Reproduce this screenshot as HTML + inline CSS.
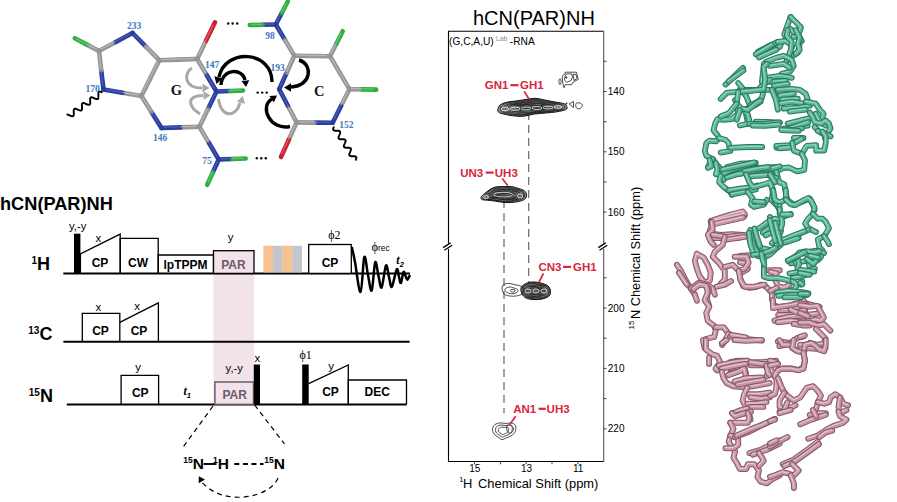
<!DOCTYPE html>
<html><head><meta charset="utf-8"><style>
html,body{margin:0;padding:0;background:#fff;}
svg{display:block;}

</style></head><body>
<svg font-family="Liberation Sans" width="897" height="502" viewBox="0 0 897 502">
<g stroke-linecap="round" stroke-width="4.6">
<line x1="99" y1="51" x2="115.8" y2="42.0" stroke="#959595"/>
<line x1="132.5" y1="33" x2="115.8" y2="42.0" stroke="#2a3d9e"/>
<line x1="132.5" y1="33" x2="145.9" y2="46.6" stroke="#2a3d9e"/>
<line x1="159.3" y1="60.2" x2="145.9" y2="46.6" stroke="#959595"/>
<line x1="159.3" y1="60.2" x2="150.4" y2="78.1" stroke="#959595"/>
<line x1="141.4" y1="96" x2="150.4" y2="78.1" stroke="#959595"/>
<line x1="141.4" y1="96" x2="122.5" y2="92.8" stroke="#959595"/>
<line x1="103.5" y1="89.5" x2="122.5" y2="92.8" stroke="#2a3d9e"/>
<line x1="103.5" y1="89.5" x2="101.2" y2="70.2" stroke="#2a3d9e"/>
<line x1="99" y1="51" x2="101.2" y2="70.2" stroke="#959595"/>
<line x1="99" y1="51" x2="86.9" y2="44.6" stroke="#959595"/>
<line x1="74.8" y1="38.3" x2="86.9" y2="44.6" stroke="#2fae40"/>
<line x1="159.3" y1="60.2" x2="178.2" y2="59.6" stroke="#959595"/>
<line x1="197.2" y1="59" x2="178.2" y2="59.6" stroke="#959595"/>
<line x1="197.2" y1="59" x2="206.1" y2="40.6" stroke="#959595"/>
<line x1="215" y1="22.3" x2="206.1" y2="40.6" stroke="#c92030"/>
<line x1="197.2" y1="59" x2="206.8" y2="75.2" stroke="#959595"/>
<line x1="216.5" y1="91.5" x2="206.8" y2="75.2" stroke="#2a3d9e"/>
<line x1="216.5" y1="91.5" x2="207.9" y2="109.2" stroke="#2a3d9e"/>
<line x1="199.4" y1="126.8" x2="207.9" y2="109.2" stroke="#959595"/>
<line x1="199.4" y1="126.8" x2="180.4" y2="127.4" stroke="#959595"/>
<line x1="161.5" y1="128" x2="180.4" y2="127.4" stroke="#2a3d9e"/>
<line x1="161.5" y1="128" x2="151.4" y2="112.0" stroke="#2a3d9e"/>
<line x1="141.4" y1="96" x2="151.4" y2="112.0" stroke="#959595"/>
<line x1="199.4" y1="126.8" x2="209.1" y2="143.2" stroke="#959595"/>
<line x1="218.7" y1="159.5" x2="209.1" y2="143.2" stroke="#2a3d9e"/>
<line x1="218.7" y1="159.5" x2="232.2" y2="159.0" stroke="#2a3d9e"/>
<line x1="245.7" y1="158.5" x2="232.2" y2="159.0" stroke="#2fae40"/>
<line x1="218.7" y1="159.5" x2="212.9" y2="172.2" stroke="#2a3d9e"/>
<line x1="207.2" y1="184.8" x2="212.9" y2="172.2" stroke="#2fae40"/>
<line x1="216.5" y1="91.5" x2="229.8" y2="91.0" stroke="#2a3d9e"/>
<line x1="243" y1="90.5" x2="229.8" y2="91.0" stroke="#2fae40"/>
<line x1="275.8" y1="24.5" x2="281.8" y2="13.0" stroke="#2a3d9e"/>
<line x1="287.7" y1="1.5" x2="281.8" y2="13.0" stroke="#2fae40"/>
<line x1="275.8" y1="24.5" x2="262.8" y2="24.8" stroke="#2a3d9e"/>
<line x1="249.8" y1="25" x2="262.8" y2="24.8" stroke="#2fae40"/>
<line x1="275.8" y1="24.5" x2="285.1" y2="40.1" stroke="#2a3d9e"/>
<line x1="294.3" y1="55.7" x2="285.1" y2="40.1" stroke="#959595"/>
<line x1="294.3" y1="55.7" x2="312.1" y2="56.0" stroke="#959595"/>
<line x1="330" y1="56.2" x2="312.1" y2="56.0" stroke="#959595"/>
<line x1="330" y1="56.2" x2="336.4" y2="43.7" stroke="#959595"/>
<line x1="342.7" y1="31.2" x2="336.4" y2="43.7" stroke="#2fae40"/>
<line x1="330" y1="56.2" x2="339.7" y2="72.7" stroke="#959595"/>
<line x1="349.4" y1="89.2" x2="339.7" y2="72.7" stroke="#959595"/>
<line x1="349.4" y1="89.2" x2="362.8" y2="89.4" stroke="#959595"/>
<line x1="376.2" y1="89.6" x2="362.8" y2="89.4" stroke="#2fae40"/>
<line x1="349.4" y1="89.2" x2="341.0" y2="106.0" stroke="#959595"/>
<line x1="332.7" y1="122.8" x2="341.0" y2="106.0" stroke="#2a3d9e"/>
<line x1="332.7" y1="122.8" x2="314.6" y2="122.6" stroke="#2a3d9e"/>
<line x1="296.6" y1="122.4" x2="314.6" y2="122.6" stroke="#959595"/>
<line x1="296.6" y1="122.4" x2="288.8" y2="139.7" stroke="#959595"/>
<line x1="281" y1="157" x2="288.8" y2="139.7" stroke="#c92030"/>
<line x1="296.6" y1="122.4" x2="287.9" y2="105.8" stroke="#959595"/>
<line x1="279.2" y1="89.2" x2="287.9" y2="105.8" stroke="#2a3d9e"/>
<line x1="279.2" y1="89.2" x2="286.8" y2="72.5" stroke="#2a3d9e"/>
<line x1="294.3" y1="55.7" x2="286.8" y2="72.5" stroke="#959595"/>
</g>
<g stroke-linecap="butt" stroke-width="1.3" stroke-opacity="0.7" transform="translate(-0.3,-0.5)">
<line x1="101.5" y1="49.6" x2="115.8" y2="42.0" stroke="#c4c4c4"/>
<line x1="130.0" y1="34.4" x2="115.8" y2="42.0" stroke="#5668c0"/>
<line x1="134.5" y1="35.0" x2="145.9" y2="46.6" stroke="#5668c0"/>
<line x1="157.3" y1="58.2" x2="145.9" y2="46.6" stroke="#c4c4c4"/>
<line x1="158.0" y1="62.9" x2="150.4" y2="78.1" stroke="#c4c4c4"/>
<line x1="142.7" y1="93.3" x2="150.4" y2="78.1" stroke="#c4c4c4"/>
<line x1="138.6" y1="95.5" x2="122.5" y2="92.8" stroke="#c4c4c4"/>
<line x1="106.3" y1="90.0" x2="122.5" y2="92.8" stroke="#5668c0"/>
<line x1="103.2" y1="86.6" x2="101.2" y2="70.2" stroke="#5668c0"/>
<line x1="99.3" y1="53.9" x2="101.2" y2="70.2" stroke="#c4c4c4"/>
<line x1="97.2" y1="50.0" x2="86.9" y2="44.6" stroke="#c4c4c4"/>
<line x1="76.6" y1="39.3" x2="86.9" y2="44.6" stroke="#74d184"/>
<line x1="162.1" y1="60.1" x2="178.2" y2="59.6" stroke="#c4c4c4"/>
<line x1="194.4" y1="59.1" x2="178.2" y2="59.6" stroke="#c4c4c4"/>
<line x1="198.5" y1="56.2" x2="206.1" y2="40.6" stroke="#c4c4c4"/>
<line x1="213.7" y1="25.1" x2="206.1" y2="40.6" stroke="#e86a78"/>
<line x1="198.6" y1="61.4" x2="206.8" y2="75.2" stroke="#c4c4c4"/>
<line x1="215.1" y1="89.1" x2="206.8" y2="75.2" stroke="#5668c0"/>
<line x1="215.2" y1="94.1" x2="207.9" y2="109.2" stroke="#5668c0"/>
<line x1="200.7" y1="124.2" x2="207.9" y2="109.2" stroke="#c4c4c4"/>
<line x1="196.6" y1="126.9" x2="180.4" y2="127.4" stroke="#c4c4c4"/>
<line x1="164.3" y1="127.9" x2="180.4" y2="127.4" stroke="#5668c0"/>
<line x1="160.0" y1="125.6" x2="151.4" y2="112.0" stroke="#5668c0"/>
<line x1="142.9" y1="98.4" x2="151.4" y2="112.0" stroke="#c4c4c4"/>
<line x1="200.8" y1="129.3" x2="209.1" y2="143.2" stroke="#c4c4c4"/>
<line x1="217.3" y1="157.0" x2="209.1" y2="143.2" stroke="#5668c0"/>
<line x1="220.7" y1="159.4" x2="232.2" y2="159.0" stroke="#5668c0"/>
<line x1="243.7" y1="158.6" x2="232.2" y2="159.0" stroke="#74d184"/>
<line x1="217.8" y1="161.4" x2="212.9" y2="172.2" stroke="#5668c0"/>
<line x1="208.1" y1="182.9" x2="212.9" y2="172.2" stroke="#74d184"/>
<line x1="218.5" y1="91.4" x2="229.8" y2="91.0" stroke="#5668c0"/>
<line x1="241.0" y1="90.6" x2="229.8" y2="91.0" stroke="#74d184"/>
<line x1="276.7" y1="22.8" x2="281.8" y2="13.0" stroke="#5668c0"/>
<line x1="286.8" y1="3.2" x2="281.8" y2="13.0" stroke="#74d184"/>
<line x1="273.9" y1="24.5" x2="262.8" y2="24.8" stroke="#5668c0"/>
<line x1="251.8" y1="25.0" x2="262.8" y2="24.8" stroke="#74d184"/>
<line x1="277.2" y1="26.8" x2="285.1" y2="40.1" stroke="#5668c0"/>
<line x1="292.9" y1="53.4" x2="285.1" y2="40.1" stroke="#c4c4c4"/>
<line x1="297.0" y1="55.7" x2="312.1" y2="56.0" stroke="#c4c4c4"/>
<line x1="327.3" y1="56.2" x2="312.1" y2="56.0" stroke="#c4c4c4"/>
<line x1="331.0" y1="54.3" x2="336.4" y2="43.7" stroke="#c4c4c4"/>
<line x1="341.7" y1="33.1" x2="336.4" y2="43.7" stroke="#74d184"/>
<line x1="331.5" y1="58.7" x2="339.7" y2="72.7" stroke="#c4c4c4"/>
<line x1="347.9" y1="86.7" x2="339.7" y2="72.7" stroke="#c4c4c4"/>
<line x1="351.4" y1="89.2" x2="362.8" y2="89.4" stroke="#c4c4c4"/>
<line x1="374.2" y1="89.6" x2="362.8" y2="89.4" stroke="#74d184"/>
<line x1="348.1" y1="91.7" x2="341.0" y2="106.0" stroke="#c4c4c4"/>
<line x1="334.0" y1="120.3" x2="341.0" y2="106.0" stroke="#5668c0"/>
<line x1="330.0" y1="122.8" x2="314.6" y2="122.6" stroke="#5668c0"/>
<line x1="299.3" y1="122.4" x2="314.6" y2="122.6" stroke="#c4c4c4"/>
<line x1="295.4" y1="125.0" x2="288.8" y2="139.7" stroke="#c4c4c4"/>
<line x1="282.2" y1="154.4" x2="288.8" y2="139.7" stroke="#e86a78"/>
<line x1="295.3" y1="119.9" x2="287.9" y2="105.8" stroke="#c4c4c4"/>
<line x1="280.5" y1="91.7" x2="287.9" y2="105.8" stroke="#5668c0"/>
<line x1="280.3" y1="86.7" x2="286.8" y2="72.5" stroke="#5668c0"/>
<line x1="293.2" y1="58.2" x2="286.8" y2="72.5" stroke="#c4c4c4"/>
</g>
<polyline fill="none" stroke="#000" stroke-width="1.9" points="102.5,92.5 102.1,92.3 101.8,92.2 101.4,92.0 101.1,91.9 100.7,91.8 100.4,91.7 100.1,91.6 99.8,91.6 99.6,91.6 99.3,91.6 99.1,91.7 98.9,91.8 98.8,91.9 98.7,92.1 98.5,92.3 98.5,92.6 98.4,92.9 98.4,93.2 98.3,93.5 98.3,93.9 98.3,94.2 98.4,94.6 98.4,95.0 98.4,95.4 98.4,95.8 98.4,96.2 98.4,96.6 98.4,97.0 98.4,97.3 98.4,97.7 98.4,98.0 98.3,98.2 98.2,98.5 98.1,98.7 97.9,98.8 97.8,99.0 97.6,99.0 97.4,99.1 97.1,99.1 96.9,99.1 96.6,99.1 96.3,99.0 95.9,98.9 95.6,98.8 95.2,98.6 94.9,98.5 94.5,98.3 94.1,98.2 93.8,98.0 93.4,97.8 93.1,97.7 92.7,97.6 92.4,97.5 92.1,97.4 91.8,97.3 91.5,97.3 91.3,97.3 91.0,97.4 90.8,97.5 90.7,97.6 90.5,97.7 90.4,97.9 90.3,98.1 90.2,98.4 90.2,98.7 90.1,99.0 90.1,99.4 90.1,99.7 90.1,100.1 90.1,100.5 90.2,100.9 90.2,101.3 90.2,101.7 90.2,102.1 90.2,102.5 90.2,102.8 90.2,103.2 90.2,103.5 90.1,103.8 90.0,104.0 89.9,104.3 89.8,104.4 89.7,104.6 89.5,104.7 89.3,104.8 89.1,104.8 88.8,104.8 88.5,104.8 88.2,104.7 87.9,104.7 87.6,104.6 87.2,104.4 86.9,104.3 86.5,104.1 86.2,104.0 85.8,103.8 85.4,103.6 85.1,103.5 84.7,103.4 84.4,103.2 84.1,103.1 83.7,103.1 83.5,103.0 83.2,103.0 83.0,103.1 82.7,103.1 82.6,103.2 82.4,103.3 82.3,103.5 82.1,103.7 82.1,104.0 82.0,104.2 81.9,104.5 81.9,104.9 81.9,105.2 81.9,105.6 81.9,106.0 81.9,106.4 82.0,106.8 82.0,107.2 82.0,107.6 82.0,108.0 82.0,108.3 82.0,108.7 82.0,109.0 81.9,109.3 81.9,109.6 81.8,109.8 81.7,110.0 81.5,110.2 81.4,110.4 81.2,110.5 81.0,110.5 80.8,110.5 80.5,110.5 80.2,110.5 79.9,110.4 79.6,110.3 79.2,110.2 78.9,110.1 78.5,109.9 78.2,109.8 77.8,109.6 77.4,109.5 77.1,109.3 76.7,109.2 76.4,109.0 76.0,108.9 75.7,108.8 75.4,108.8 75.1,108.7 74.9,108.7 74.7,108.8 74.5,108.9 74.3,109.0 74.1,109.1 74.0,109.3 73.9,109.5 73.8,109.8 73.8,110.1 73.7,110.4 73.7,110.7 73.7,111.1 73.7,111.4 73.7,111.8 73.7,112.2 73.8,112.6 73.8,113.0 73.8,113.4 73.8,113.8 73.8,114.2 73.8,114.5 73.8,114.8 73.7,115.1 73.6,115.4 73.5,115.6 73.4,115.8 73.3,116.0 73.1,116.1 72.9,116.2 72.7,116.2 72.4,116.3 72.2,116.2 71.9,116.2 71.6,116.1 71.2,116.0 70.9,115.9 70.5,115.7 70.2,115.6 69.8,115.4 69.4,115.3 69.1,115.1 68.7,115.0 68.4,114.8 68.0,114.7 67.7,114.6 67.4,114.5 67.1,114.5 66.8,114.5 66.6,114.5"/>
<polyline fill="none" stroke="#000" stroke-width="1.9" points="334.0,126.5 333.9,126.8 333.7,127.2 333.6,127.5 333.5,127.8 333.3,128.1 333.3,128.4 333.2,128.7 333.1,128.9 333.1,129.2 333.1,129.4 333.2,129.6 333.3,129.8 333.4,130.0 333.5,130.1 333.7,130.3 333.9,130.4 334.1,130.5 334.4,130.5 334.7,130.6 335.0,130.7 335.3,130.7 335.6,130.7 336.0,130.7 336.3,130.7 336.7,130.8 337.0,130.8 337.4,130.8 337.8,130.8 338.1,130.8 338.4,130.8 338.7,130.9 339.0,131.0 339.3,131.0 339.5,131.1 339.7,131.2 339.9,131.4 340.0,131.5 340.1,131.7 340.2,131.9 340.2,132.1 340.2,132.3 340.2,132.6 340.2,132.8 340.1,133.1 340.0,133.4 339.9,133.7 339.8,134.0 339.7,134.3 339.5,134.7 339.4,135.0 339.2,135.3 339.1,135.7 339.0,136.0 338.8,136.3 338.7,136.6 338.6,136.9 338.6,137.2 338.5,137.4 338.5,137.7 338.5,137.9 338.6,138.1 338.6,138.3 338.7,138.5 338.9,138.6 339.1,138.8 339.3,138.9 339.5,139.0 339.7,139.0 340.0,139.1 340.3,139.2 340.7,139.2 341.0,139.2 341.3,139.2 341.7,139.2 342.1,139.2 342.4,139.3 342.8,139.3 343.1,139.3 343.5,139.3 343.8,139.3 344.1,139.4 344.4,139.5 344.6,139.5 344.9,139.6 345.1,139.7 345.2,139.9 345.4,140.0 345.5,140.2 345.6,140.4 345.6,140.6 345.6,140.8 345.6,141.1 345.6,141.3 345.5,141.6 345.4,141.9 345.3,142.2 345.2,142.5 345.0,142.8 344.9,143.2 344.8,143.5 344.6,143.8 344.5,144.2 344.3,144.5 344.2,144.8 344.1,145.1 344.0,145.4 343.9,145.7 343.9,145.9 343.9,146.2 343.9,146.4 343.9,146.6 344.0,146.8 344.1,147.0 344.3,147.1 344.4,147.3 344.6,147.4 344.9,147.5 345.1,147.5 345.4,147.6 345.7,147.7 346.0,147.7 346.4,147.7 346.7,147.7 347.1,147.7 347.4,147.8 347.8,147.8 348.2,147.8 348.5,147.8 348.8,147.8 349.2,147.8 349.5,147.9 349.8,148.0 350.0,148.0 350.2,148.1 350.4,148.2 350.6,148.4 350.8,148.5 350.9,148.7 350.9,148.9 351.0,149.1 351.0,149.3 351.0,149.6 350.9,149.8 350.9,150.1 350.8,150.4 350.7,150.7 350.5,151.0 350.4,151.3 350.3,151.7 350.1,152.0 350.0,152.3 349.8,152.7 349.7,153.0 349.6,153.3 349.5,153.6 349.4,153.9 349.3,154.2 349.3,154.4 349.3,154.7 349.3,154.9 349.3,155.1 349.4,155.3 349.5,155.5 349.6,155.6 349.8,155.8 350.0,155.9 350.2,156.0 350.5,156.0 350.8,156.1 351.1,156.2 351.4,156.2 351.7,156.2 352.1,156.2 352.5,156.2 352.8,156.2 353.2,156.3 353.5,156.3 353.9,156.3 354.2,156.3 354.5,156.3 354.8,156.4 355.1,156.5 355.4,156.5 355.6,156.6 355.8,156.7 356.0,156.9 356.1,157.0 356.2,157.2 356.3,157.4 356.4,157.6 356.4,157.8 356.4,158.1 356.3,158.3 356.2,158.6 356.2,158.9 356.0,159.2 355.9,159.5 355.8,159.8 355.6,160.2 355.5,160.5"/>
<circle cx="228.2" cy="23.5" r="1.2" fill="#000"/>
<circle cx="232.7" cy="23.5" r="1.2" fill="#000"/>
<circle cx="237.2" cy="23.5" r="1.2" fill="#000"/>
<circle cx="257.7" cy="92.6" r="1.2" fill="#000"/>
<circle cx="262.2" cy="92.6" r="1.2" fill="#000"/>
<circle cx="266.7" cy="92.6" r="1.2" fill="#000"/>
<circle cx="256.8" cy="158.3" r="1.2" fill="#000"/>
<circle cx="261.3" cy="158.3" r="1.2" fill="#000"/>
<circle cx="265.8" cy="158.3" r="1.2" fill="#000"/>
<text x="134" y="29.0" text-anchor="middle" font-family="Liberation Serif" font-weight="bold" font-size="9.5" fill="#3b78bf">233</text>
<text x="92.7" y="92.0" text-anchor="middle" font-family="Liberation Serif" font-weight="bold" font-size="9.5" fill="#3b78bf">170</text>
<text x="212.2" y="68.0" text-anchor="middle" font-family="Liberation Serif" font-weight="bold" font-size="9.5" fill="#3b78bf">147</text>
<text x="160" y="140.8" text-anchor="middle" font-family="Liberation Serif" font-weight="bold" font-size="9.5" fill="#3b78bf">146</text>
<text x="207" y="164.3" text-anchor="middle" font-family="Liberation Serif" font-weight="bold" font-size="9.5" fill="#3b78bf">75</text>
<text x="269.9" y="39.0" text-anchor="middle" font-family="Liberation Serif" font-weight="bold" font-size="9.5" fill="#3b78bf">98</text>
<text x="277.5" y="71.3" text-anchor="middle" font-family="Liberation Serif" font-weight="bold" font-size="9.5" fill="#3b78bf">193</text>
<text x="346.3" y="127.89999999999999" text-anchor="middle" font-family="Liberation Serif" font-weight="bold" font-size="9.5" fill="#3b78bf">152</text>
<text x="176.5" y="95.3" text-anchor="middle" font-family="Liberation Serif" font-weight="bold" font-size="14.5" fill="#111">G</text>
<text x="319.3" y="95.6" text-anchor="middle" font-family="Liberation Serif" font-weight="bold" font-size="14.5" fill="#111">C</text>
<path d="M272,82 C272,50 225,48 219,77" fill="none" stroke="#000" stroke-width="3.4"/>
<polygon points="216.5,84.0 214.3,76.2 222.4,78.3" fill="#000"/>
<path d="M221,85 C222,68 243,68 245,80" fill="none" stroke="#000" stroke-width="3.4"/>
<polygon points="246.0,87.0 241.5,80.9 249.3,80.2" fill="#000"/>
<path d="M299,60 C313,64 312,86 291,87" fill="none" stroke="#000" stroke-width="3.4"/>
<polygon points="284.0,87.5 291.0,83.3 291.0,91.7" fill="#000"/>
<path d="M290,126.5 C270,131 259,106 272,99" fill="none" stroke="#000" stroke-width="3.4"/>
<polygon points="277.0,95.5 273.9,102.4 269.4,96.0" fill="#000"/>
<path d="M192,68 C184,72 183,88 202,88" fill="none" stroke="#a8a8a8" stroke-width="3"/>
<polygon points="209.5,88.0 202.5,92.2 202.5,83.8" fill="#a8a8a8"/>
<path d="M200,114 C190,108 184,96 203,95.5" fill="none" stroke="#a8a8a8" stroke-width="3"/>
<polygon points="210.5,95.5 203.5,99.7 203.5,91.3" fill="#a8a8a8"/>
<path d="M218.5,99 C221,118 236,118 240,103" fill="none" stroke="#a8a8a8" stroke-width="3"/>
<polygon points="242.8,96.0 245.0,103.8 236.9,101.7" fill="#a8a8a8"/>
<text x="0" y="210" font-family="Liberation Sans" font-weight="bold" font-size="18.2" fill="#000">hCN(PAR)NH</text>
<rect x="213.5" y="250.7" width="40.5" height="153.7" fill="#f2e2ea"/>
<text x="31.5" y="269.7" font-family="Liberation Sans" font-weight="bold" font-size="18" fill="#000"><tspan font-size="10" dy="-5.8">1</tspan><tspan dy="5.8">H</tspan></text>
<text x="28.3" y="339.6" font-family="Liberation Sans" font-weight="bold" font-size="18" fill="#000"><tspan font-size="10" dy="-5.8">13</tspan><tspan dy="5.8">C</tspan></text>
<text x="28.8" y="402.2" font-family="Liberation Sans" font-weight="bold" font-size="18" fill="#000"><tspan font-size="10" dy="-5.8">15</tspan><tspan dy="5.8">N</tspan></text>
<g fill="none" stroke="#000" stroke-width="1.3">
<line x1="63.3" y1="273.4" x2="410" y2="273.4" stroke-width="2"/>
<rect x="74" y="233.7" width="6.4" height="39.69999999999999" fill="#000" stroke="none"/>
<polyline points="80.4,273.4 80.4,253.8 120.2,234.1 120.2,273.4"/>
<polyline points="120.2,273.4 120.2,238.3 158.2,238.3 158.2,273.4"/>
<polyline points="158.2,273.4 158.2,255 213.5,255 213.5,273.4"/>
<rect x="213.5" y="250.7" width="40.5" height="22.69999999999999" fill="#f2e2ea"/>
<rect x="308.7" y="244.5" width="42.6" height="28.899999999999977" fill="#fff"/>
</g>
<rect x="263.30" y="245.8" width="9.82" height="26.6" fill="#f5c290"/>
<rect x="272.93" y="245.8" width="9.82" height="26.6" fill="#c3c6cc"/>
<rect x="282.55" y="245.8" width="9.82" height="26.6" fill="#f5c290"/>
<rect x="292.18" y="245.8" width="9.82" height="26.6" fill="#c3c6cc"/>
<path fill="none" stroke="#000" stroke-width="2.5" stroke-linejoin="round" d="M351.8,247.0 C352.3,249.5 353.6,254.5 355.0,262.0 C356.4,269.5 358.9,292.8 360.5,292.0 C362.1,291.2 363.1,259.8 364.3,257.0 C365.6,254.2 366.8,269.4 368.0,275.0 C369.2,280.6 370.5,292.6 371.7,290.5 C372.9,288.4 374.1,264.6 375.2,262.2 C376.3,259.8 377.4,271.8 378.5,276.0 C379.6,280.2 380.4,289.3 381.6,287.5 C382.9,285.7 384.8,267.1 386.0,265.4 C387.2,263.6 388.0,273.4 389.0,277.0 C390.0,280.6 390.5,288.1 391.8,286.8 C393.1,285.5 395.6,270.9 396.8,269.3 C398.0,267.7 398.3,274.7 399.0,277.0 C399.7,279.3 400.1,283.8 400.9,282.9 C401.6,282.0 402.7,273.0 403.5,271.9 C404.3,270.8 404.9,274.7 405.5,276.0 C406.1,277.3 406.6,279.9 407.4,279.7 C408.1,279.5 409.6,275.8 410.0,275.0"/>
<g fill="none" stroke="#000" stroke-width="1.3">
<line x1="63.4" y1="341.8" x2="409.6" y2="341.8" stroke-width="2"/>
<polyline points="82.3,341.8 82.3,313.3 119.8,313.3 119.8,341.8"/>
<polyline points="119.8,322.3 158.4,302.9 158.4,341.8"/>
</g>
<g fill="none" stroke="#000" stroke-width="1.3">
<line x1="66.8" y1="404.4" x2="406.5" y2="404.4" stroke-width="2"/>
<polyline points="121.1,404.4 121.1,375.4 158.6,375.4 158.6,404.4"/>
<rect x="214.9" y="382" width="38.6" height="22.399999999999977" fill="#f2e2ea" stroke="#6e5a66" stroke-width="1.5"/>
<rect x="253.8" y="364.5" width="6.2" height="39.89999999999998" fill="#000" stroke="none"/>
<rect x="302.2" y="364.5" width="6.5" height="39.89999999999998" fill="#000" stroke="none"/>
<polyline points="308.7,383.7 348.3,365 348.3,404.4"/>
<polyline points="348.3,404.4 348.3,380 406.5,380 406.5,404.4"/>
</g>
<text x="100" y="267.3" text-anchor="middle" font-family="Liberation Sans" font-weight="bold" font-size="12" fill="#000" >CP</text>
<text x="138" y="267.3" text-anchor="middle" font-family="Liberation Sans" font-weight="bold" font-size="12" fill="#000" >CW</text>
<text x="185.5" y="268.5" text-anchor="middle" font-family="Liberation Sans" font-weight="bold" font-size="12" fill="#000" >lpTPPM</text>
<text x="330" y="267.3" text-anchor="middle" font-family="Liberation Sans" font-weight="bold" font-size="12" fill="#000" >CP</text>
<text x="100.5" y="334.5" text-anchor="middle" font-family="Liberation Sans" font-weight="bold" font-size="12" fill="#000" >CP</text>
<text x="139" y="334.5" text-anchor="middle" font-family="Liberation Sans" font-weight="bold" font-size="12" fill="#000" >CP</text>
<text x="140.3" y="397" text-anchor="middle" font-family="Liberation Sans" font-weight="bold" font-size="12" fill="#000" >CP</text>
<text x="330.5" y="395.6" text-anchor="middle" font-family="Liberation Sans" font-weight="bold" font-size="12" fill="#000" >CP</text>
<text x="377.2" y="395.6" text-anchor="middle" font-family="Liberation Sans" font-weight="bold" font-size="12" fill="#000" >DEC</text>
<text x="233.4" y="268.7" text-anchor="middle" font-family="Liberation Sans" font-weight="bold" font-size="12" fill="#6e5a66" >PAR</text>
<text x="234.7" y="399.4" text-anchor="middle" font-family="Liberation Sans" font-weight="bold" font-size="12" fill="#6e5a66" >PAR</text>
<text x="98.4" y="241.5" text-anchor="middle" font-family="Liberation Sans" font-weight="normal" font-size="11.5" fill="#000" >x</text>
<text x="230.7" y="241.3" text-anchor="middle" font-family="Liberation Sans" font-weight="normal" font-size="11.5" fill="#000" >y</text>
<text x="98.3" y="310.5" text-anchor="middle" font-family="Liberation Sans" font-weight="normal" font-size="11.5" fill="#000" >x</text>
<text x="137.2" y="310" text-anchor="middle" font-family="Liberation Sans" font-weight="normal" font-size="11.5" fill="#000" >x</text>
<text x="138" y="370.6" text-anchor="middle" font-family="Liberation Sans" font-weight="normal" font-size="11.5" fill="#000" >y</text>
<text x="257.4" y="361.5" text-anchor="middle" font-family="Liberation Sans" font-weight="normal" font-size="11.5" fill="#000" >x</text>
<text x="331" y="369.5" text-anchor="middle" font-family="Liberation Sans" font-weight="normal" font-size="11.5" fill="#000" >y</text>
<text x="69" y="229.9" font-family="Liberation Sans" font-size="11.8" textLength="17.4" lengthAdjust="spacingAndGlyphs">y,-y</text>
<text x="225.6" y="371.8" font-family="Liberation Sans" font-size="11.8" textLength="17.3" lengthAdjust="spacingAndGlyphs">y,-y</text>
<text x="334.4" y="239" text-anchor="middle" font-family="Liberation Serif" font-size="12">&#981;2</text>
<text x="305.6" y="358.5" text-anchor="middle" font-family="Liberation Serif" font-size="12">&#981;1</text>
<text x="371.5" y="251.3" font-family="Liberation Serif" font-size="12.5">&#981;<tspan font-family="Liberation Sans" font-size="8.3">rec</tspan></text>
<text x="396.3" y="264.2" font-family="Liberation Serif" font-style="italic" font-weight="bold" font-size="12">t<tspan font-family="Liberation Sans" font-size="7.5" dy="2.4">2</tspan></text>
<text x="183.5" y="395.4" font-family="Liberation Serif" font-style="italic" font-weight="bold" font-size="12">t<tspan font-family="Liberation Sans" font-size="7.5" dy="3">1</tspan></text>
<g stroke="#000" stroke-width="1.2" stroke-dasharray="5,4" fill="none">
<line x1="213" y1="406" x2="182.5" y2="448"/>
<line x1="254.6" y1="405" x2="284.5" y2="444"/>
<line x1="234.3" y1="464" x2="263.5" y2="464" stroke-width="1.8" stroke-dasharray="5,3.6"/>
<path d="M278,478 C270,498 222,508 200,480"/>
</g>
<polygon points="198.8,476.2 204.9,479.6 198.7,483.2" fill="#000"/>
<text x="183.3" y="469" font-family="Liberation Sans" font-weight="bold" font-size="15.5"><tspan font-size="8.5" dy="-6">15</tspan><tspan dy="6">N</tspan></text>
<line x1="203.5" y1="464" x2="216.5" y2="464" stroke="#000" stroke-width="1.9"/>
<text x="213" y="469" font-family="Liberation Sans" font-weight="bold" font-size="15.5"><tspan font-size="8.5" dy="-6">1</tspan><tspan dy="6">H</tspan></text>
<text x="264.3" y="469" font-family="Liberation Sans" font-weight="bold" font-size="15.5"><tspan font-size="8.5" dy="-6">15</tspan><tspan dy="6">N</tspan></text>
<text x="473" y="25" font-family="Liberation Sans" font-size="20">hCN(PAR)NH</text>
<text x="449" y="45.3" font-family="Liberation Sans" font-size="10.2">(G,C,A,U)</text>
<text x="496" y="40.5" font-family="Liberation Sans" font-size="6.8" fill="#8a8a8a">Lab</text>
<text x="509.8" y="45.3" font-family="Liberation Sans" font-size="10.2">-RNA</text>
<g stroke="#000" stroke-width="1.1" fill="none">
<polyline points="603.7,31.2 448.5,31.2 448.5,461.5 603.7,461.5"/>
</g>
<line x1="603.7" y1="31.2" x2="603.7" y2="461.5" stroke="#555" stroke-width="1.1"/>
<g stroke="#444" stroke-width="1" fill="none">
<line x1="474.5" y1="461.5" x2="474.5" y2="464.3"/>
<line x1="500.4" y1="461.5" x2="500.4" y2="464.3"/>
<line x1="526.2" y1="461.5" x2="526.2" y2="464.3"/>
<line x1="552.0" y1="461.5" x2="552.0" y2="464.3"/>
<line x1="577.9" y1="461.5" x2="577.9" y2="464.3"/>
<line x1="603.7" y1="61.3" x2="606.5" y2="61.3"/>
<line x1="603.7" y1="91.5" x2="606.5" y2="91.5"/>
<line x1="603.7" y1="121.7" x2="606.5" y2="121.7"/>
<line x1="603.7" y1="151.8" x2="606.5" y2="151.8"/>
<line x1="603.7" y1="181.9" x2="606.5" y2="181.9"/>
<line x1="603.7" y1="212.1" x2="606.5" y2="212.1"/>
<line x1="603.7" y1="277.8" x2="606.5" y2="277.8"/>
<line x1="603.7" y1="308.0" x2="606.5" y2="308.0"/>
<line x1="603.7" y1="338.2" x2="606.5" y2="338.2"/>
<line x1="603.7" y1="368.4" x2="606.5" y2="368.4"/>
<line x1="603.7" y1="398.6" x2="606.5" y2="398.6"/>
<line x1="603.7" y1="428.8" x2="606.5" y2="428.8"/>
</g>
<rect x="446.5" y="243.5" width="4" height="5.5" fill="#fff"/>
<g stroke="#000" stroke-width="1.3"><line x1="443.1" y1="247.6" x2="450.6" y2="242.9"/><line x1="444.3" y1="250.3" x2="452.1" y2="245.3"/></g>
<rect x="601.7" y="243.5" width="4" height="5.5" fill="#fff"/>
<g stroke="#000" stroke-width="1.3"><line x1="598.3000000000001" y1="247.6" x2="605.8000000000001" y2="242.9"/><line x1="599.5" y1="250.3" x2="607.3000000000001" y2="245.3"/></g>
<text x="607.8" y="95.0" text-anchor="start" font-family="Liberation Sans" font-weight="normal" font-size="10" fill="#000" >140</text>
<text x="607.8" y="155.3" text-anchor="start" font-family="Liberation Sans" font-weight="normal" font-size="10" fill="#000" >150</text>
<text x="607.8" y="215.60000000000002" text-anchor="start" font-family="Liberation Sans" font-weight="normal" font-size="10" fill="#000" >160</text>
<text x="607.8" y="311.5" text-anchor="start" font-family="Liberation Sans" font-weight="normal" font-size="10" fill="#000" >200</text>
<text x="607.8" y="371.9" text-anchor="start" font-family="Liberation Sans" font-weight="normal" font-size="10" fill="#000" >210</text>
<text x="607.8" y="432.3" text-anchor="start" font-family="Liberation Sans" font-weight="normal" font-size="10" fill="#000" >220</text>
<text x="474.8" y="472.3" text-anchor="middle" font-family="Liberation Sans" font-weight="normal" font-size="10" fill="#000" >15</text>
<text x="526.5" y="472.3" text-anchor="middle" font-family="Liberation Sans" font-weight="normal" font-size="10" fill="#000" >13</text>
<text x="578.1999999999999" y="472.3" text-anchor="middle" font-family="Liberation Sans" font-weight="normal" font-size="10" fill="#000" >11</text>
<text x="459.3" y="481.8" font-family="Liberation Sans" font-size="7.5">1</text>
<text x="463" y="487.6" font-family="Liberation Sans" font-size="12.9">H</text>
<text x="478" y="487.6" font-family="Liberation Sans" font-size="12.9">Chemical Shift (ppm)</text>
<g transform="translate(639.7,329.5) rotate(-90)"><text x="0" y="-5.8" font-family="Liberation Sans" font-size="8">15</text><text x="10.4" y="0" font-family="Liberation Sans" font-size="12.8">N Chemical Shift (ppm)</text></g>
<g stroke="#666" stroke-width="1.2" stroke-dasharray="8,5" fill="none">
<line x1="528.7" y1="112" x2="528.7" y2="285"/>
<line x1="504" y1="200" x2="504" y2="413"/>
</g>
<path d="M497.8,109.6 C498.0,108.4 498.5,106.3 500.0,105.1 C501.5,103.9 503.7,103.0 506.7,102.3 C509.7,101.6 514.2,101.2 517.9,100.7 C521.6,100.2 525.9,99.4 529.0,99.0 C532.1,98.6 533.6,98.1 536.8,98.4 C540.0,98.7 544.6,100.1 548.0,100.7 C551.4,101.3 554.1,101.8 556.9,102.3 C559.7,102.8 563.0,103.2 564.7,104.0 C566.4,104.8 566.7,105.9 566.9,106.8 C567.1,107.7 567.5,108.8 565.8,109.6 C564.1,110.4 560.2,111.2 556.9,111.8 C553.5,112.4 549.4,112.6 545.7,113.0 C542.0,113.4 538.3,113.5 534.6,114.0 C530.9,114.5 527.1,116.0 523.4,116.3 C519.7,116.6 515.6,116.1 512.3,115.7 C509.0,115.3 505.6,114.5 503.4,114.0 C501.2,113.5 499.8,113.1 498.9,112.4 C498.0,111.7 497.6,110.8 497.8,109.6 Z" fill="#8a8a8a" stroke="#111" stroke-width="1"/>
<path d="M500.4,108.9 C500.5,107.8 501.0,106.2 502.5,105.1 C503.9,104.0 506.3,103.0 509.1,102.4 C511.9,101.8 516.1,101.8 519.4,101.3 C522.8,100.9 526.4,100.2 529.2,99.8 C531.9,99.4 533.0,98.9 536.0,99.2 C539.0,99.4 544.1,100.8 547.3,101.5 C550.5,102.1 552.8,102.4 555.3,103.0 C557.7,103.5 560.3,104.0 561.9,104.6 C563.4,105.3 564.5,106.1 564.7,106.9 C564.9,107.6 564.8,108.5 563.1,109.2 C561.4,109.9 557.8,110.5 554.7,111.0 C551.6,111.6 547.9,112.1 544.4,112.4 C541.0,112.8 537.3,112.7 533.8,113.2 C530.4,113.7 527.1,114.9 523.9,115.2 C520.6,115.5 517.3,115.3 514.2,115.0 C511.0,114.7 507.0,113.8 505.0,113.3 C502.9,112.8 502.6,112.7 501.9,112.0 C501.1,111.2 500.3,110.1 500.4,108.9 Z" fill="none" stroke="#1a1a1a" stroke-width="0.75"/>
<path d="M502.8,108.9 C503.0,107.8 504.0,106.5 505.2,105.6 C506.4,104.8 507.5,104.2 510.0,103.5 C512.5,102.9 517.1,102.4 520.4,101.9 C523.7,101.3 527.1,100.8 529.7,100.4 C532.2,100.1 532.9,99.7 535.6,99.9 C538.3,100.2 543.1,101.5 545.9,102.0 C548.7,102.4 550.2,102.4 552.6,102.9 C555.0,103.4 558.7,104.2 560.2,104.9 C561.8,105.5 561.6,106.0 561.7,106.8 C561.9,107.6 562.5,108.8 561.1,109.4 C559.7,110.0 556.1,109.9 553.1,110.4 C550.1,110.8 546.3,111.8 543.1,112.1 C539.9,112.5 537.1,112.1 534.0,112.5 C530.8,112.9 527.2,114.2 524.1,114.5 C521.0,114.9 518.1,114.8 515.5,114.5 C512.8,114.2 510.0,113.2 508.0,112.7 C506.0,112.3 504.6,112.4 503.7,111.8 C502.8,111.1 502.5,109.9 502.8,108.9 Z" fill="none" stroke="#1a1a1a" stroke-width="0.75"/>
<path d="M505.7,108.7 C505.9,107.9 506.2,106.8 507.3,106.0 C508.4,105.2 510.2,104.7 512.4,104.2 C514.7,103.6 518.0,103.4 520.9,102.9 C523.7,102.5 527.2,101.8 529.7,101.4 C532.2,101.0 533.6,100.4 536.0,100.6 C538.4,100.9 541.6,102.3 544.1,102.8 C546.7,103.2 549.1,103.0 551.3,103.4 C553.6,103.9 556.0,104.6 557.3,105.3 C558.7,105.9 559.2,106.7 559.3,107.3 C559.3,107.9 559.2,108.5 557.8,109.1 C556.5,109.6 553.8,110.3 551.3,110.7 C548.7,111.1 545.3,111.2 542.4,111.5 C539.5,111.7 536.8,111.7 533.8,112.1 C530.9,112.5 527.7,113.6 524.9,113.9 C522.1,114.1 519.5,113.8 516.9,113.5 C514.4,113.2 511.3,112.3 509.6,111.9 C507.8,111.5 507.2,111.5 506.5,110.9 C505.9,110.4 505.6,109.6 505.7,108.7 Z" fill="none" stroke="#1a1a1a" stroke-width="0.75"/>
<path d="M508.5,108.9 C508.6,108.1 508.9,106.2 510.0,105.4 C511.0,104.7 512.6,104.6 514.7,104.2 C516.8,103.9 520.1,103.5 522.6,103.2 C525.0,102.9 527.3,102.7 529.4,102.5 C531.6,102.2 533.1,101.6 535.5,101.7 C537.8,101.8 541.2,102.7 543.6,103.2 C545.9,103.7 547.7,104.1 549.6,104.5 C551.4,104.8 553.5,105.0 554.7,105.3 C555.8,105.7 556.3,106.1 556.5,106.6 C556.7,107.1 557.2,107.6 556.0,108.1 C554.8,108.7 551.8,109.3 549.4,109.7 C547.1,110.1 544.8,110.2 542.1,110.5 C539.5,110.8 536.3,111.3 533.5,111.7 C530.8,112.0 528.3,112.5 525.7,112.6 C523.0,112.6 520.0,112.5 517.6,112.2 C515.3,111.9 513.1,111.3 511.7,110.9 C510.3,110.6 509.8,110.4 509.2,110.1 C508.7,109.7 508.4,109.7 508.5,108.9 Z" fill="none" stroke="#1a1a1a" stroke-width="0.75"/>
<path d="M510.7,108.1 C510.8,107.4 510.7,106.1 511.6,105.6 C512.6,105.0 514.4,104.8 516.4,104.6 C518.4,104.4 521.2,104.5 523.5,104.2 C525.9,103.9 528.4,103.0 530.4,102.7 C532.3,102.5 533.4,102.8 535.2,102.9 C537.1,103.1 539.3,103.2 541.4,103.6 C543.5,103.9 546.0,104.6 547.8,104.9 C549.7,105.1 551.6,104.7 552.5,105.1 C553.4,105.5 553.2,106.8 553.3,107.3 C553.4,107.8 554.1,107.6 553.2,107.9 C552.2,108.1 549.9,108.6 547.7,109.0 C545.6,109.4 542.5,109.9 540.1,110.1 C537.7,110.3 535.8,110.1 533.5,110.2 C531.1,110.4 528.4,111.0 526.1,111.2 C523.9,111.3 522.1,111.3 520.0,111.2 C517.9,111.2 515.1,111.2 513.7,111.0 C512.2,110.7 511.7,110.1 511.2,109.6 C510.7,109.1 510.6,108.7 510.7,108.1 Z" fill="none" stroke="#1a1a1a" stroke-width="0.75"/>
<path d="M513.3,108.2 C513.4,107.7 513.1,106.3 513.8,105.8 C514.5,105.4 515.8,105.5 517.6,105.4 C519.3,105.2 522.2,105.1 524.3,104.9 C526.4,104.6 528.3,104.2 530.1,103.9 C531.9,103.7 533.2,103.3 535.0,103.3 C536.7,103.3 538.9,103.8 540.7,104.1 C542.4,104.4 544.0,104.9 545.6,105.1 C547.2,105.3 549.4,105.1 550.3,105.3 C551.2,105.6 550.9,106.2 551.0,106.6 C551.1,107.0 552.0,107.3 551.1,107.7 C550.1,108.2 547.0,109.1 545.1,109.3 C543.3,109.5 541.9,108.9 540.0,108.9 C538.1,108.9 535.8,109.1 533.7,109.4 C531.6,109.6 529.4,110.3 527.4,110.4 C525.4,110.6 523.6,110.3 521.7,110.3 C519.8,110.3 517.5,110.5 516.1,110.3 C514.8,110.0 513.9,109.0 513.4,108.7 C512.9,108.3 513.3,108.6 513.3,108.2 Z" fill="none" stroke="#1a1a1a" stroke-width="0.75"/>
<path d="M515.7,107.6 C515.6,107.2 515.8,106.4 516.4,106.0 C517.1,105.7 517.9,105.7 519.5,105.5 C521.0,105.3 523.7,105.0 525.5,104.7 C527.3,104.5 528.8,104.2 530.3,104.2 C531.7,104.2 532.5,104.5 534.0,104.7 C535.6,104.9 537.9,105.4 539.6,105.4 C541.3,105.5 542.8,105.0 544.2,105.1 C545.6,105.2 547.1,105.8 547.9,106.0 C548.7,106.2 549.0,106.1 549.1,106.5 C549.2,106.8 549.3,107.8 548.5,108.1 C547.7,108.4 545.9,108.0 544.2,108.1 C542.5,108.1 540.2,108.4 538.3,108.6 C536.4,108.7 534.7,108.6 533.1,108.8 C531.4,109.0 530.2,109.8 528.4,109.9 C526.5,110.0 523.8,109.7 522.1,109.5 C520.3,109.3 519.0,108.9 518.1,108.7 C517.2,108.5 517.2,108.8 516.8,108.6 C516.3,108.4 515.7,108.0 515.7,107.6 Z" fill="none" stroke="#1a1a1a" stroke-width="0.75"/>
<path d="M518.3,107.4 C518.4,107.0 518.9,106.6 519.4,106.5 C520.0,106.3 520.4,106.4 521.7,106.3 C522.9,106.2 525.5,105.9 527.0,105.8 C528.4,105.7 529.4,105.7 530.5,105.7 C531.6,105.7 532.3,105.5 533.6,105.6 C534.8,105.6 536.6,105.8 538.0,105.8 C539.4,105.9 540.8,105.9 541.9,106.0 C543.0,106.2 543.9,106.4 544.6,106.6 C545.3,106.8 546.0,107.1 546.2,107.2 C546.3,107.3 546.0,107.2 545.3,107.3 C544.7,107.4 543.8,107.8 542.4,107.9 C541.1,108.0 539.0,107.8 537.4,107.8 C535.9,107.8 534.8,108.0 533.3,108.1 C531.8,108.2 530.2,108.4 528.6,108.4 C527.0,108.5 525.1,108.3 523.7,108.4 C522.3,108.4 521.1,108.7 520.3,108.7 C519.5,108.7 519.2,108.7 518.9,108.4 C518.6,108.2 518.2,107.7 518.3,107.4 Z" fill="none" stroke="#1a1a1a" stroke-width="0.75"/>
<path d="M520.3,107.7 C520.4,107.6 520.8,107.5 521.5,107.2 C522.1,107.0 523.5,106.2 524.4,106.1 C525.3,106.1 525.8,106.7 526.9,106.7 C527.9,106.6 529.6,106.1 530.6,106.0 C531.6,105.8 532.1,105.9 533.1,105.9 C534.1,105.9 535.4,105.8 536.6,105.9 C537.9,106.0 539.7,106.5 540.6,106.6 C541.5,106.6 541.7,106.2 542.1,106.3 C542.6,106.3 543.1,106.7 543.2,106.8 C543.3,106.9 543.3,106.8 542.7,106.8 C542.1,106.9 540.7,107.0 539.7,107.1 C538.7,107.1 537.8,107.1 536.7,107.2 C535.6,107.4 534.2,107.8 533.0,107.9 C531.9,108.0 531.0,107.7 529.8,107.7 C528.6,107.7 526.7,107.8 525.6,107.7 C524.5,107.7 523.7,107.6 523.0,107.5 C522.3,107.5 521.6,107.5 521.2,107.5 C520.7,107.6 520.3,107.7 520.3,107.7 Z" fill="none" stroke="#1a1a1a" stroke-width="0.75"/>
<ellipse cx="505" cy="109" rx="4" ry="1.6" fill="none" stroke="#f0f0f0" stroke-width="0.8"/>
<ellipse cx="515" cy="108.8" rx="5" ry="1.6" fill="none" stroke="#f0f0f0" stroke-width="0.8"/>
<ellipse cx="526" cy="108.5" rx="5" ry="1.5" fill="none" stroke="#f0f0f0" stroke-width="0.8"/>
<ellipse cx="537" cy="108" rx="5" ry="1.5" fill="none" stroke="#f0f0f0" stroke-width="0.8"/>
<ellipse cx="548" cy="107.5" rx="5" ry="1.4" fill="none" stroke="#f0f0f0" stroke-width="0.8"/>
<ellipse cx="558" cy="107" rx="4" ry="1.3" fill="none" stroke="#f0f0f0" stroke-width="0.8"/>
<path d="M481.1,197.1 C481.4,196.2 482.8,195.3 484.1,194.1 C485.4,192.9 487.3,191.3 489.1,190.1 C490.9,188.9 492.9,187.7 495.1,187.1 C497.3,186.5 499.5,186.7 502.2,186.6 C504.9,186.5 508.7,186.3 511.2,186.6 C513.7,186.8 515.2,187.5 517.2,188.1 C519.2,188.7 521.7,189.3 523.2,190.1 C524.7,190.9 525.7,191.9 526.2,193.1 C526.7,194.3 526.7,195.9 526.2,197.1 C525.7,198.3 525.0,199.3 523.2,200.1 C521.4,200.9 518.2,201.7 515.2,202.1 C512.2,202.5 508.6,202.8 505.2,202.6 C501.8,202.4 498.1,201.5 495.1,201.1 C492.1,200.7 489.3,200.3 487.1,200.1 C484.9,199.8 483.1,200.1 482.1,199.6 C481.1,199.1 480.8,198.0 481.1,197.1 Z" fill="#8a8a8a" stroke="#111" stroke-width="1"/>
<path d="M483.3,197.3 C483.7,196.4 484.7,195.2 485.8,194.1 C486.8,193.0 488.0,191.6 489.7,190.6 C491.5,189.6 494.1,188.6 496.1,188.0 C498.1,187.4 499.4,187.1 501.8,187.1 C504.2,187.1 508.3,187.5 510.7,187.8 C513.0,188.0 514.1,188.1 516.0,188.6 C517.9,189.2 520.9,190.3 522.2,191.1 C523.6,191.9 523.7,192.5 524.0,193.5 C524.4,194.5 524.9,196.0 524.5,196.9 C524.0,197.9 523.1,198.7 521.5,199.4 C519.8,200.1 517.0,200.7 514.3,201.0 C511.7,201.4 508.7,201.7 505.6,201.6 C502.5,201.6 498.7,200.8 495.8,200.5 C492.9,200.2 490.2,200.0 488.2,199.9 C486.1,199.7 484.4,199.9 483.6,199.5 C482.8,199.1 483.0,198.2 483.3,197.3 Z" fill="none" stroke="#1a1a1a" stroke-width="0.75"/>
<path d="M484.5,196.2 C484.8,195.4 486.2,195.0 487.3,194.2 C488.5,193.4 490.0,192.4 491.5,191.6 C493.0,190.7 494.4,189.6 496.3,189.1 C498.2,188.5 500.3,188.3 502.7,188.2 C505.1,188.0 508.5,188.0 510.6,188.2 C512.8,188.5 514.0,189.2 515.6,189.6 C517.2,190.1 518.8,190.4 520.1,191.0 C521.3,191.5 522.7,192.1 523.2,193.1 C523.7,194.1 523.7,196.2 523.2,197.1 C522.7,198.0 521.9,198.1 520.2,198.7 C518.5,199.2 515.5,199.9 513.0,200.4 C510.6,200.8 508.4,201.4 505.6,201.4 C502.7,201.4 498.5,200.6 495.9,200.3 C493.4,200.0 491.9,199.7 490.2,199.5 C488.5,199.3 486.6,199.7 485.6,199.1 C484.7,198.6 484.2,197.0 484.5,196.2 Z" fill="none" stroke="#1a1a1a" stroke-width="0.75"/>
<path d="M486.7,196.5 C487.0,195.8 487.6,195.5 488.6,194.7 C489.5,193.8 491.0,192.5 492.4,191.6 C493.8,190.7 495.7,189.8 497.3,189.4 C498.9,189.1 500.0,189.6 502.1,189.6 C504.3,189.5 508.1,189.2 510.2,189.3 C512.3,189.4 513.3,189.7 514.7,190.1 C516.2,190.5 517.7,191.1 518.8,191.7 C519.9,192.4 520.8,193.1 521.2,193.8 C521.6,194.5 521.6,195.3 521.3,196.1 C520.9,196.8 520.6,197.8 519.2,198.4 C517.8,198.9 515.2,199.4 512.9,199.6 C510.7,199.9 508.1,200.1 505.4,199.9 C502.8,199.8 499.6,198.9 497.2,198.8 C494.8,198.6 492.9,199.0 491.2,199.0 C489.4,198.9 487.5,199.0 486.8,198.6 C486.1,198.2 486.4,197.2 486.7,196.5 Z" fill="none" stroke="#1a1a1a" stroke-width="0.75"/>
<path d="M488.6,196.1 C488.7,195.6 489.0,195.2 489.9,194.6 C490.8,193.9 492.7,193.0 494.0,192.4 C495.3,191.7 496.3,191.0 497.8,190.6 C499.3,190.2 501.1,190.0 503.0,189.9 C504.9,189.8 507.1,189.9 508.9,190.0 C510.7,190.1 512.2,190.2 513.7,190.6 C515.2,190.9 517.0,191.6 518.0,192.1 C518.9,192.6 519.2,193.0 519.5,193.6 C519.8,194.2 520.1,195.2 519.7,195.8 C519.3,196.5 518.2,197.2 516.9,197.7 C515.5,198.2 513.8,198.7 511.8,199.0 C509.8,199.4 507.3,199.9 504.9,199.8 C502.6,199.8 499.8,199.1 497.8,198.9 C495.7,198.6 493.8,198.4 492.4,198.2 C490.9,198.0 489.6,197.9 489.0,197.6 C488.3,197.2 488.4,196.6 488.6,196.1 Z" fill="none" stroke="#1a1a1a" stroke-width="0.75"/>
<path d="M490.1,195.6 C490.4,195.0 491.2,195.1 491.9,194.5 C492.5,193.9 493.1,192.7 494.3,192.2 C495.4,191.6 497.2,191.3 498.7,191.2 C500.1,191.0 501.3,191.2 503.0,191.1 C504.7,191.1 507.3,190.7 508.8,190.8 C510.2,190.8 510.6,191.3 511.8,191.5 C513.1,191.7 515.2,191.6 516.2,192.1 C517.1,192.5 517.2,193.7 517.5,194.3 C517.8,194.9 518.2,195.3 517.9,195.8 C517.5,196.3 516.7,196.8 515.6,197.3 C514.5,197.7 513.4,198.4 511.5,198.6 C509.6,198.9 506.4,198.9 504.2,198.7 C501.9,198.5 500.0,197.8 498.2,197.6 C496.3,197.5 494.5,197.6 493.1,197.7 C491.8,197.7 490.6,198.1 490.1,197.8 C489.6,197.4 489.8,196.1 490.1,195.6 Z" fill="none" stroke="#1a1a1a" stroke-width="0.75"/>
<path d="M491.7,195.7 C492.0,195.3 492.9,194.9 493.6,194.4 C494.2,194.0 494.6,193.4 495.5,192.9 C496.4,192.4 497.8,191.7 499.1,191.5 C500.3,191.3 501.5,191.4 503.1,191.5 C504.6,191.6 507.1,191.9 508.4,192.0 C509.7,192.1 509.8,192.1 510.9,192.3 C511.9,192.5 513.7,193.0 514.5,193.3 C515.3,193.6 515.4,193.4 515.8,193.8 C516.1,194.2 516.9,195.1 516.8,195.6 C516.6,196.2 515.7,196.6 514.7,197.0 C513.7,197.5 512.2,198.1 510.6,198.2 C509.0,198.3 506.7,197.8 504.8,197.7 C503.0,197.6 501.4,197.6 499.6,197.4 C497.8,197.2 495.5,196.8 494.1,196.7 C492.8,196.6 491.9,197.2 491.5,197.1 C491.1,196.9 491.3,196.2 491.7,195.7 Z" fill="none" stroke="#1a1a1a" stroke-width="0.75"/>
<path d="M492.9,195.2 C493.1,194.8 493.3,194.9 494.0,194.7 C494.6,194.4 496.0,193.9 496.9,193.6 C497.8,193.3 498.3,192.9 499.3,192.7 C500.3,192.6 501.6,192.8 502.9,192.8 C504.2,192.8 505.6,192.8 506.9,192.9 C508.1,192.9 509.4,192.9 510.4,193.0 C511.5,193.1 512.5,193.2 513.2,193.4 C513.9,193.6 514.5,193.9 514.7,194.2 C514.9,194.5 514.6,194.9 514.2,195.3 C513.9,195.6 513.6,196.1 512.7,196.4 C511.9,196.7 510.6,196.9 509.2,196.9 C507.8,197.0 505.7,197.1 504.1,197.0 C502.6,196.9 501.0,196.5 499.7,196.4 C498.3,196.4 497.1,196.9 496.0,196.9 C494.9,196.9 493.6,196.9 493.1,196.6 C492.5,196.3 492.8,195.5 492.9,195.2 Z" fill="none" stroke="#1a1a1a" stroke-width="0.75"/>
<path d="M495.1,195.1 C495.3,195.0 495.6,195.1 496.0,195.0 C496.5,194.9 496.9,194.6 497.8,194.3 C498.6,194.1 500.0,193.8 500.9,193.6 C501.8,193.3 502.2,193.1 503.1,193.1 C504.0,193.1 505.5,193.6 506.4,193.6 C507.4,193.6 507.9,193.1 508.8,193.3 C509.7,193.4 511.3,194.3 512.0,194.5 C512.7,194.7 512.7,194.4 512.8,194.6 C512.9,194.8 512.8,195.7 512.6,195.9 C512.3,196.1 512.0,195.9 511.3,195.9 C510.6,195.9 509.4,195.9 508.4,196.0 C507.3,196.1 506.3,196.3 505.0,196.4 C503.7,196.5 502.0,196.7 500.8,196.6 C499.6,196.6 498.6,196.2 497.7,196.0 C496.7,195.9 495.5,195.9 495.1,195.8 C494.6,195.6 495.0,195.2 495.1,195.1 Z" fill="none" stroke="#1a1a1a" stroke-width="0.75"/>
<path d="M496.1,195.6 C496.3,195.5 497.5,195.2 498.0,195.1 C498.5,195.0 498.6,194.9 499.1,194.7 C499.5,194.6 499.9,194.5 500.7,194.4 C501.4,194.3 502.8,194.2 503.7,194.1 C504.5,194.0 505.0,193.9 505.8,193.8 C506.7,193.8 508.0,193.7 508.8,193.9 C509.5,194.0 509.7,194.7 510.1,194.7 C510.6,194.8 511.4,194.3 511.6,194.3 C511.8,194.4 511.8,195.0 511.5,195.2 C511.3,195.3 510.8,195.0 510.3,195.1 C509.7,195.2 509.0,195.8 508.1,195.9 C507.3,195.9 506.2,195.4 505.0,195.3 C503.8,195.2 502.1,195.2 501.1,195.2 C500.0,195.2 499.5,195.2 498.8,195.3 C498.1,195.4 497.2,195.6 496.8,195.7 C496.3,195.7 495.9,195.7 496.1,195.6 Z" fill="none" stroke="#1a1a1a" stroke-width="0.75"/>
<ellipse cx="503.2" cy="194.6" rx="9.5" ry="2.3" fill="none" stroke="#f0f0f0" stroke-width="0.8"/>
<ellipse cx="486" cy="197" rx="2.5" ry="1.5" fill="none" stroke="#f0f0f0" stroke-width="0.8"/>
<ellipse cx="520" cy="196" rx="2.5" ry="2" fill="none" stroke="#f0f0f0" stroke-width="0.8"/>
<path d="M525.0,284.0 C526.8,283.0 529.3,282.2 532.0,282.0 C534.7,281.8 538.3,282.3 541.0,283.0 C543.7,283.7 546.4,284.7 548.0,286.0 C549.6,287.3 550.3,289.3 550.5,291.0 C550.7,292.7 550.4,294.7 549.0,296.0 C547.6,297.3 544.7,298.4 542.0,299.0 C539.3,299.6 535.7,299.7 533.0,299.5 C530.3,299.3 527.8,298.9 526.0,298.0 C524.2,297.1 522.8,295.7 522.0,294.0 C521.2,292.3 520.5,289.7 521.0,288.0 C521.5,286.3 523.2,285.0 525.0,284.0 Z" fill="#8a8a8a" stroke="#111" stroke-width="1"/>
<path d="M525.3,285.2 C526.9,284.2 529.4,282.9 532.0,282.7 C534.5,282.5 538.0,283.6 540.6,284.2 C543.1,284.9 545.9,285.5 547.5,286.7 C549.0,287.8 549.8,289.6 549.9,291.1 C549.9,292.6 549.0,294.6 547.7,295.8 C546.4,297.1 544.4,298.0 541.9,298.5 C539.5,299.0 535.4,299.0 532.9,298.7 C530.5,298.5 528.7,298.0 527.1,297.2 C525.6,296.4 524.2,295.4 523.4,293.9 C522.5,292.5 521.8,289.9 522.1,288.4 C522.4,287.0 523.6,286.1 525.3,285.2 Z" fill="none" stroke="#1a1a1a" stroke-width="0.75"/>
<path d="M526.3,285.3 C527.7,284.6 529.8,283.5 532.2,283.5 C534.6,283.4 538.4,284.4 540.7,284.9 C543.1,285.4 545.0,285.6 546.3,286.6 C547.7,287.6 548.7,289.5 548.9,291.0 C549.0,292.5 548.5,294.3 547.2,295.4 C546.0,296.5 543.8,297.2 541.5,297.5 C539.2,297.9 535.5,297.8 533.2,297.6 C531.0,297.5 529.4,297.5 528.0,296.8 C526.5,296.1 525.1,295.0 524.4,293.6 C523.7,292.1 523.4,289.5 523.7,288.2 C524.0,286.8 524.8,286.1 526.3,285.3 Z" fill="none" stroke="#1a1a1a" stroke-width="0.75"/>
<path d="M527.4,286.3 C528.7,285.6 530.8,285.1 532.8,285.0 C534.8,284.9 537.2,285.0 539.3,285.4 C541.4,285.8 544.0,286.5 545.3,287.4 C546.6,288.3 547.2,289.7 547.3,290.9 C547.4,292.0 546.9,293.6 545.7,294.6 C544.6,295.5 542.3,296.0 540.2,296.4 C538.2,296.8 535.2,297.0 533.2,296.9 C531.2,296.9 529.7,296.9 528.4,296.2 C527.1,295.5 526.0,293.9 525.5,292.7 C524.9,291.5 524.6,290.1 524.9,289.0 C525.2,287.9 526.1,286.9 527.4,286.3 Z" fill="none" stroke="#1a1a1a" stroke-width="0.75"/>
<path d="M527.8,286.8 C529.1,286.2 531.7,286.1 533.7,286.0 C535.6,285.8 538.0,285.5 539.7,285.9 C541.4,286.3 543.0,287.5 544.1,288.4 C545.2,289.2 546.0,289.9 546.1,290.9 C546.2,291.9 545.7,293.7 544.7,294.5 C543.7,295.3 541.6,295.2 539.9,295.5 C538.1,295.9 535.9,296.6 534.1,296.5 C532.3,296.5 530.6,296.0 529.3,295.4 C527.9,294.7 526.6,293.8 526.0,292.8 C525.4,291.9 525.5,290.7 525.8,289.7 C526.1,288.7 526.5,287.5 527.8,286.8 Z" fill="none" stroke="#1a1a1a" stroke-width="0.75"/>
<path d="M529.5,287.4 C530.4,286.9 531.3,286.4 533.0,286.4 C534.6,286.4 537.5,287.2 539.2,287.5 C540.9,287.8 542.1,287.7 543.0,288.3 C543.9,288.9 544.3,290.1 544.5,291.0 C544.7,291.9 545.0,292.8 544.1,293.5 C543.2,294.1 541.0,294.5 539.3,294.7 C537.6,295.0 535.4,295.0 533.8,295.0 C532.2,295.0 530.9,295.2 529.7,294.7 C528.5,294.3 527.2,293.4 526.7,292.6 C526.3,291.8 526.5,290.7 527.0,289.8 C527.4,289.0 528.5,288.0 529.5,287.4 Z" fill="none" stroke="#1a1a1a" stroke-width="0.75"/>
<path d="M529.5,288.6 C530.5,288.1 532.1,287.1 533.8,287.0 C535.4,286.9 537.8,287.7 539.3,288.1 C540.8,288.5 542.2,289.0 542.9,289.5 C543.7,290.0 543.9,290.4 543.9,290.9 C544.0,291.5 543.9,292.2 543.1,292.7 C542.3,293.3 540.7,294.0 539.2,294.3 C537.7,294.6 535.6,294.6 534.2,294.6 C532.7,294.5 531.3,294.3 530.3,293.9 C529.3,293.6 528.6,293.3 528.1,292.6 C527.7,292.0 527.6,290.7 527.8,290.1 C528.0,289.4 528.5,289.2 529.5,288.6 Z" fill="none" stroke="#1a1a1a" stroke-width="0.75"/>
<path d="M530.3,288.5 C531.1,288.3 533.4,288.1 534.6,288.1 C535.9,288.1 536.8,288.3 537.9,288.5 C539.1,288.6 540.7,288.8 541.5,289.1 C542.3,289.4 542.6,290.0 542.7,290.5 C542.9,291.0 543.1,291.7 542.4,292.1 C541.7,292.6 540.1,292.8 538.8,293.2 C537.5,293.5 535.9,294.0 534.6,294.0 C533.3,294.0 531.8,293.5 531.0,293.1 C530.1,292.7 529.7,292.3 529.4,291.7 C529.1,291.2 529.3,290.3 529.4,289.8 C529.6,289.2 529.4,288.8 530.3,288.5 Z" fill="none" stroke="#1a1a1a" stroke-width="0.75"/>
<path d="M531.8,290.0 C532.5,289.7 533.1,289.5 534.2,289.4 C535.3,289.3 537.1,289.2 538.2,289.3 C539.4,289.4 540.4,289.7 541.1,289.9 C541.8,290.2 542.2,290.6 542.2,291.0 C542.1,291.3 541.4,291.8 540.7,292.0 C540.0,292.3 539.0,292.5 538.1,292.5 C537.1,292.6 536.0,292.4 535.0,292.3 C534.0,292.2 533.1,292.2 532.2,292.1 C531.4,292.0 530.3,291.9 529.9,291.7 C529.6,291.5 529.8,291.1 530.1,290.9 C530.4,290.6 531.1,290.2 531.8,290.0 Z" fill="none" stroke="#1a1a1a" stroke-width="0.75"/>
<path d="M532.6,290.5 C533.3,290.4 533.8,289.9 534.7,289.9 C535.7,289.9 537.3,290.4 538.1,290.5 C539.0,290.6 539.4,290.5 539.8,290.7 C540.2,290.8 540.5,291.1 540.6,291.3 C540.8,291.5 541.0,291.5 540.5,291.7 C540.0,291.8 538.5,292.0 537.6,292.1 C536.7,292.1 536.0,292.1 535.1,292.0 C534.3,291.9 533.0,291.3 532.4,291.3 C531.9,291.3 532.3,291.9 532.0,291.8 C531.7,291.7 530.5,290.9 530.6,290.7 C530.7,290.4 531.9,290.6 532.6,290.5 Z" fill="none" stroke="#1a1a1a" stroke-width="0.75"/>
<ellipse cx="528" cy="291" rx="3" ry="2" fill="none" stroke="#f0f0f0" stroke-width="0.8"/>
<ellipse cx="536" cy="291" rx="3" ry="2" fill="none" stroke="#f0f0f0" stroke-width="0.8"/>
<ellipse cx="544" cy="291" rx="3" ry="2" fill="none" stroke="#f0f0f0" stroke-width="0.8"/>
<g fill="none" stroke="#222" stroke-width="0.8">
<path d="M502.0,287.0 C502.2,285.3 503.7,284.6 505.0,284.0 C506.3,283.4 508.2,283.3 510.0,283.5 C511.8,283.7 514.2,284.6 516.0,285.0 C517.8,285.4 519.7,285.3 521.0,286.0 C522.3,286.7 523.8,287.7 524.0,289.0 C524.2,290.3 523.3,292.8 522.0,294.0 C520.7,295.2 518.0,295.7 516.0,296.0 C514.0,296.3 512.0,296.3 510.0,296.0 C508.0,295.7 505.3,295.5 504.0,294.0 C502.7,292.5 501.8,288.7 502.0,287.0 Z"/>
<path d="M505.0,289.0 C505.5,288.2 507.5,287.2 509.0,287.0 C510.5,286.8 512.5,287.5 514.0,288.0 C515.5,288.5 517.7,289.2 518.0,290.0 C518.3,290.8 517.3,292.4 516.0,293.0 C514.7,293.6 511.7,293.7 510.0,293.5 C508.3,293.3 506.8,292.8 506.0,292.0 C505.2,291.2 504.5,289.8 505.0,289.0 Z"/>
<path d="M511.0,289.5 C511.7,289.2 514.5,289.6 515.0,290.0 C515.5,290.4 514.7,291.8 514.0,292.0 C513.3,292.2 511.5,291.9 511.0,291.5 C510.5,291.1 510.3,289.8 511.0,289.5 Z"/>
<path d="M565.2,72.2 L576.5,72.2 L578.3,79.3 L572.9,82.3 L571.7,84.7 L565.2,84.7 L564,87.7 L562.8,83.5 L562.2,78 L563,75.2 L565.2,74 Z"/>
<path d="M566.5,74 L571.5,73.8 L572.5,77 L571,80.5 L566.5,82.3 L564.5,80 L565,76.5 Z"/>
<path d="M573,74.2 L576,74.5 L577,78.5 L574,80.5 L573.5,77 Z"/>
<ellipse cx="560" cy="81.6" rx="1.1" ry="3"/>
<circle cx="566.2" cy="77.5" r="0.7" fill="#222"/>
<path d="M569,104 L573.5,101.5 L573.5,107.5 Z"/>
<path d="M576.0,103.5 C576.6,102.7 578.9,102.7 580.0,103.0 C581.1,103.3 582.5,104.6 582.5,105.5 C582.5,106.4 581.0,108.1 580.0,108.5 C579.0,108.9 577.2,108.8 576.5,108.0 C575.8,107.2 575.4,104.3 576.0,103.5 Z"/>
<circle cx="566.5" cy="103.5" r="0.6" fill="#222"/>
<path d="M492.5,429.0 C492.7,427.4 493.8,425.5 495.0,424.5 C496.2,423.5 498.2,423.1 500.0,422.9 C501.8,422.7 504.0,423.5 506.0,423.5 C508.0,423.5 510.4,422.6 512.0,423.0 C513.6,423.4 515.2,424.5 515.7,426.0 C516.2,427.5 515.8,430.3 515.0,432.0 C514.2,433.7 512.5,435.0 511.0,436.0 C509.5,437.0 507.5,437.4 506.0,438.0 C504.5,438.6 503.3,439.8 502.0,439.6 C500.7,439.4 499.3,437.9 498.0,437.0 C496.7,436.1 494.9,435.3 494.0,434.0 C493.1,432.7 492.3,430.6 492.5,429.0 Z"/>
<path d="M495.4,429.4 C495.6,428.3 496.3,426.9 497.2,426.2 C498.1,425.4 499.5,425.1 500.8,425.0 C502.2,424.9 503.7,425.4 505.2,425.5 C506.6,425.5 508.3,424.8 509.5,425.1 C510.6,425.4 511.8,426.2 512.1,427.3 C512.5,428.3 512.2,430.4 511.6,431.6 C511.1,432.8 509.8,433.7 508.8,434.5 C507.7,435.2 506.2,435.5 505.2,435.9 C504.1,436.3 503.2,437.2 502.3,437.1 C501.3,436.9 500.4,435.9 499.4,435.2 C498.4,434.5 497.2,434.0 496.5,433.0 C495.9,432.1 495.3,430.6 495.4,429.4 Z"/>
<path d="M498.3,429.8 C498.3,429.1 498.8,428.3 499.4,427.8 C500.0,427.3 500.8,427.2 501.6,427.1 C502.5,427.0 503.5,427.3 504.4,427.4 C505.2,427.4 506.3,426.9 507.1,427.1 C507.8,427.3 508.5,427.8 508.7,428.5 C508.9,429.2 508.8,430.4 508.4,431.2 C508.0,431.9 507.3,432.5 506.6,433.0 C505.9,433.4 505.0,433.6 504.4,433.9 C503.7,434.1 503.2,434.7 502.6,434.6 C501.9,434.5 501.4,433.8 500.8,433.4 C500.1,433.0 499.4,432.7 498.9,432.1 C498.5,431.5 498.2,430.5 498.3,429.8 Z"/>
<path d="M507.0,426.0 C507.6,424.8 509.9,424.5 511.0,425.0 C512.1,425.5 513.5,427.7 513.5,429.0 C513.5,430.3 512.0,432.5 511.0,433.0 C510.0,433.5 508.2,433.2 507.5,432.0 C506.8,430.8 506.4,427.2 507.0,426.0 Z"/>
</g>
<text x="484.8" y="89.2" font-family="Liberation Sans" font-weight="bold" font-size="11.5" fill="#d7263d">GN1</text>
<text x="520.1" y="89.2" font-family="Liberation Sans" font-weight="bold" font-size="11.5" fill="#d7263d">GH1</text>
<line x1="510.4" y1="85.2" x2="518.6" y2="85.2" stroke="#d7263d" stroke-width="2.2"/>
<line x1="524.2" y1="91.4" x2="529" y2="99" stroke="#d7263d" stroke-width="1.7"/>
<text x="460.2" y="176.6" font-family="Liberation Sans" font-weight="bold" font-size="11.5" fill="#d7263d">UN3</text>
<text x="494.8" y="176.6" font-family="Liberation Sans" font-weight="bold" font-size="11.5" fill="#d7263d">UH3</text>
<line x1="485.6" y1="172.6" x2="493.6" y2="172.6" stroke="#d7263d" stroke-width="2.2"/>
<line x1="502.2" y1="178.5" x2="507.7" y2="185.6" stroke="#d7263d" stroke-width="1.7"/>
<text x="538.5" y="270.9" font-family="Liberation Sans" font-weight="bold" font-size="11.5" fill="#d7263d">CN3</text>
<text x="573" y="270.9" font-family="Liberation Sans" font-weight="bold" font-size="11.5" fill="#d7263d">GH1</text>
<line x1="563" y1="266.9" x2="571" y2="266.9" stroke="#d7263d" stroke-width="2.2"/>
<line x1="543.4" y1="273.4" x2="539.1" y2="282" stroke="#d7263d" stroke-width="1.7"/>
<text x="513.2" y="412.8" font-family="Liberation Sans" font-weight="bold" font-size="11.5" fill="#d7263d">AN1</text>
<text x="546.6" y="412.8" font-family="Liberation Sans" font-weight="bold" font-size="11.5" fill="#d7263d">UH3</text>
<line x1="538.5" y1="408.8" x2="545.8" y2="408.8" stroke="#d7263d" stroke-width="2.2"/>
<line x1="515.7" y1="416.2" x2="510.1" y2="424" stroke="#d7263d" stroke-width="1.7"/>
<g fill="none" stroke-linecap="round" stroke-linejoin="round">
<polyline points="712.7,220.6 728.7,217.4 743,214.2 744.6,215.8" stroke="#85586a" stroke-width="5.9"/>
<polyline points="712.7,220.6 728.7,217.4 743,214.2 744.6,215.8" stroke="#c896a6" stroke-width="3.9"/>
<polyline points="712.7,220.6 728.7,217.4 743,214.2 744.6,215.8" stroke="#efd6de" stroke-width="1.1" stroke-opacity="0.75" transform="translate(-0.5,-0.6)"/>
<polyline points="714.3,223 728.7,220.6 743,217.4" stroke="#85586a" stroke-width="5.9"/>
<polyline points="714.3,223 728.7,220.6 743,217.4" stroke="#c896a6" stroke-width="3.9"/>
<polyline points="714.3,223 728.7,220.6 743,217.4" stroke="#efd6de" stroke-width="1.1" stroke-opacity="0.75" transform="translate(-0.5,-0.6)"/>
<polyline points="711.2,220.6 711.2,227 709.6,231.7" stroke="#85586a" stroke-width="5.9"/>
<polyline points="711.2,220.6 711.2,227 709.6,231.7" stroke="#c896a6" stroke-width="3.9"/>
<polyline points="711.2,220.6 711.2,227 709.6,231.7" stroke="#efd6de" stroke-width="1.1" stroke-opacity="0.75" transform="translate(-0.5,-0.6)"/>
<polyline points="709.6,233.3 720.7,234.9 731.9,234.1 743,234.9" stroke="#85586a" stroke-width="5.9"/>
<polyline points="709.6,233.3 720.7,234.9 731.9,234.1 743,234.9" stroke="#c896a6" stroke-width="3.9"/>
<polyline points="709.6,233.3 720.7,234.9 731.9,234.1 743,234.9" stroke="#efd6de" stroke-width="1.1" stroke-opacity="0.75" transform="translate(-0.5,-0.6)"/>
<polyline points="709.6,238.1 723.9,238.1 738.2,238.1" stroke="#85586a" stroke-width="5.9"/>
<polyline points="709.6,238.1 723.9,238.1 738.2,238.1" stroke="#c896a6" stroke-width="3.9"/>
<polyline points="709.6,238.1 723.9,238.1 738.2,238.1" stroke="#efd6de" stroke-width="1.1" stroke-opacity="0.75" transform="translate(-0.5,-0.6)"/>
<polyline points="740,255.9 749.6,255.1" stroke="#85586a" stroke-width="5.9"/>
<polyline points="740,255.9 749.6,255.1" stroke="#c896a6" stroke-width="3.9"/>
<polyline points="740,255.9 749.6,255.1" stroke="#efd6de" stroke-width="1.1" stroke-opacity="0.75" transform="translate(-0.5,-0.6)"/>
<polyline points="740,262.3 746.4,263.9 748,268.7 743.2,271.9 740,273" stroke="#85586a" stroke-width="5.9"/>
<polyline points="740,262.3 746.4,263.9 748,268.7 743.2,271.9 740,273" stroke="#c896a6" stroke-width="3.9"/>
<polyline points="740,262.3 746.4,263.9 748,268.7 743.2,271.9 740,273" stroke="#efd6de" stroke-width="1.1" stroke-opacity="0.75" transform="translate(-0.5,-0.6)"/>
<polyline points="740,278.2 743.2,286.2 749.6,287.8 755.9,287 760.7,284.6 765.5,286.2 768.7,289.4 771.9,292.6 771.9,299 773.5,305.3 778.2,306.9 787.8,306.1 795.8,303.7 803.7,302.2 806.9,303.7 813.3,305.3 819.7,306.9" stroke="#85586a" stroke-width="5.9"/>
<polyline points="740,278.2 743.2,286.2 749.6,287.8 755.9,287 760.7,284.6 765.5,286.2 768.7,289.4 771.9,292.6 771.9,299 773.5,305.3 778.2,306.9 787.8,306.1 795.8,303.7 803.7,302.2 806.9,303.7 813.3,305.3 819.7,306.9" stroke="#c896a6" stroke-width="3.9"/>
<polyline points="740,278.2 743.2,286.2 749.6,287.8 755.9,287 760.7,284.6 765.5,286.2 768.7,289.4 771.9,292.6 771.9,299 773.5,305.3 778.2,306.9 787.8,306.1 795.8,303.7 803.7,302.2 806.9,303.7 813.3,305.3 819.7,306.9" stroke="#efd6de" stroke-width="1.1" stroke-opacity="0.75" transform="translate(-0.5,-0.6)"/>
<polyline points="768.7,270.3 779.8,270.3" stroke="#85586a" stroke-width="5.9"/>
<polyline points="768.7,270.3 779.8,270.3" stroke="#c896a6" stroke-width="3.9"/>
<polyline points="768.7,270.3 779.8,270.3" stroke="#efd6de" stroke-width="1.1" stroke-opacity="0.75" transform="translate(-0.5,-0.6)"/>
<polyline points="770.3,271.9 776.7,273.5 775.1,279.8 778.2,286.2 784.6,287.8 789.4,284.6" stroke="#85586a" stroke-width="5.9"/>
<polyline points="770.3,271.9 776.7,273.5 775.1,279.8 778.2,286.2 784.6,287.8 789.4,284.6" stroke="#c896a6" stroke-width="3.9"/>
<polyline points="770.3,271.9 776.7,273.5 775.1,279.8 778.2,286.2 784.6,287.8 789.4,284.6" stroke="#efd6de" stroke-width="1.1" stroke-opacity="0.75" transform="translate(-0.5,-0.6)"/>
<polyline points="770.3,291 776.7,287.8" stroke="#85586a" stroke-width="5.9"/>
<polyline points="770.3,291 776.7,287.8" stroke="#c896a6" stroke-width="3.9"/>
<polyline points="770.3,291 776.7,287.8" stroke="#efd6de" stroke-width="1.1" stroke-opacity="0.75" transform="translate(-0.5,-0.6)"/>
<polyline points="779.8,310.1 791,310.1 800.6,306.9" stroke="#85586a" stroke-width="5.9"/>
<polyline points="779.8,310.1 791,310.1 800.6,306.9" stroke="#c896a6" stroke-width="3.9"/>
<polyline points="779.8,310.1 791,310.1 800.6,306.9" stroke="#efd6de" stroke-width="1.1" stroke-opacity="0.75" transform="translate(-0.5,-0.6)"/>
<polyline points="778.2,314.9 789.4,314.9 800.6,313.3 806.9,314.9 819.7,313.3" stroke="#85586a" stroke-width="5.9"/>
<polyline points="778.2,314.9 789.4,314.9 800.6,313.3 806.9,314.9 819.7,313.3" stroke="#c896a6" stroke-width="3.9"/>
<polyline points="778.2,314.9 789.4,314.9 800.6,313.3 806.9,314.9 819.7,313.3" stroke="#efd6de" stroke-width="1.1" stroke-opacity="0.75" transform="translate(-0.5,-0.6)"/>
<polyline points="795.8,316.5 803.7,319.7" stroke="#85586a" stroke-width="5.9"/>
<polyline points="795.8,316.5 803.7,319.7" stroke="#c896a6" stroke-width="3.9"/>
<polyline points="795.8,316.5 803.7,319.7" stroke="#efd6de" stroke-width="1.1" stroke-opacity="0.75" transform="translate(-0.5,-0.6)"/>
<polyline points="803.7,300.6 805.3,306.9 805.3,314.9" stroke="#85586a" stroke-width="5.9"/>
<polyline points="803.7,300.6 805.3,306.9 805.3,314.9" stroke="#c896a6" stroke-width="3.9"/>
<polyline points="803.7,300.6 805.3,306.9 805.3,314.9" stroke="#efd6de" stroke-width="1.1" stroke-opacity="0.75" transform="translate(-0.5,-0.6)"/>
<polyline points="710.8,221.9 726.8,218 744.7,214 742.7,211.5 730.7,214.5 714.8,219.5 710.8,221.9" stroke="#85586a" stroke-width="5.9"/>
<polyline points="710.8,221.9 726.8,218 744.7,214 742.7,211.5 730.7,214.5 714.8,219.5 710.8,221.9" stroke="#c896a6" stroke-width="3.9"/>
<polyline points="710.8,221.9 726.8,218 744.7,214 742.7,211.5 730.7,214.5 714.8,219.5 710.8,221.9" stroke="#efd6de" stroke-width="1.1" stroke-opacity="0.75" transform="translate(-0.5,-0.6)"/>
<polyline points="713,224.5 728,221 743,217.5" stroke="#85586a" stroke-width="5.9"/>
<polyline points="713,224.5 728,221 743,217.5" stroke="#c896a6" stroke-width="3.9"/>
<polyline points="713,224.5 728,221 743,217.5" stroke="#efd6de" stroke-width="1.1" stroke-opacity="0.75" transform="translate(-0.5,-0.6)"/>
<polyline points="711.8,222 712.8,229.9 707.8,234.9 710.8,241.9 713.8,244.8" stroke="#85586a" stroke-width="5.9"/>
<polyline points="711.8,222 712.8,229.9 707.8,234.9 710.8,241.9 713.8,244.8" stroke="#c896a6" stroke-width="3.9"/>
<polyline points="711.8,222 712.8,229.9 707.8,234.9 710.8,241.9 713.8,244.8" stroke="#efd6de" stroke-width="1.1" stroke-opacity="0.75" transform="translate(-0.5,-0.6)"/>
<polyline points="712.8,234.9 726.8,236.9 744.7,234.9" stroke="#85586a" stroke-width="5.9"/>
<polyline points="712.8,234.9 726.8,236.9 744.7,234.9" stroke="#c896a6" stroke-width="3.9"/>
<polyline points="712.8,234.9 726.8,236.9 744.7,234.9" stroke="#efd6de" stroke-width="1.1" stroke-opacity="0.75" transform="translate(-0.5,-0.6)"/>
<polyline points="724.8,239.9 744.7,236.9" stroke="#85586a" stroke-width="5.9"/>
<polyline points="724.8,239.9 744.7,236.9" stroke="#c896a6" stroke-width="3.9"/>
<polyline points="724.8,239.9 744.7,236.9" stroke="#efd6de" stroke-width="1.1" stroke-opacity="0.75" transform="translate(-0.5,-0.6)"/>
<polyline points="724.8,236.9 722.8,244.8 714.8,251.8 712.8,256.8 718.8,262.8 724.8,270.7 724.8,279.7 720.8,283.7" stroke="#85586a" stroke-width="5.9"/>
<polyline points="724.8,236.9 722.8,244.8 714.8,251.8 712.8,256.8 718.8,262.8 724.8,270.7 724.8,279.7 720.8,283.7" stroke="#c896a6" stroke-width="3.9"/>
<polyline points="724.8,236.9 722.8,244.8 714.8,251.8 712.8,256.8 718.8,262.8 724.8,270.7 724.8,279.7 720.8,283.7" stroke="#efd6de" stroke-width="1.1" stroke-opacity="0.75" transform="translate(-0.5,-0.6)"/>
<polyline points="696.9,253.8 703.8,257.8 707.8,264.8 710.8,272.7 709.8,280.7 704.8,282.7 699.9,276.7 696.9,268.7 694.9,260.8 696.9,253.8" stroke="#85586a" stroke-width="5.9"/>
<polyline points="696.9,253.8 703.8,257.8 707.8,264.8 710.8,272.7 709.8,280.7 704.8,282.7 699.9,276.7 696.9,268.7 694.9,260.8 696.9,253.8" stroke="#c896a6" stroke-width="3.9"/>
<polyline points="696.9,253.8 703.8,257.8 707.8,264.8 710.8,272.7 709.8,280.7 704.8,282.7 699.9,276.7 696.9,268.7 694.9,260.8 696.9,253.8" stroke="#efd6de" stroke-width="1.1" stroke-opacity="0.75" transform="translate(-0.5,-0.6)"/>
<polyline points="677,264.8 680.9,270.7 684.9,278.7 690.9,288.7 694.9,294.6" stroke="#85586a" stroke-width="5.9"/>
<polyline points="677,264.8 680.9,270.7 684.9,278.7 690.9,288.7 694.9,294.6" stroke="#c896a6" stroke-width="3.9"/>
<polyline points="677,264.8 680.9,270.7 684.9,278.7 690.9,288.7 694.9,294.6" stroke="#efd6de" stroke-width="1.1" stroke-opacity="0.75" transform="translate(-0.5,-0.6)"/>
<polyline points="679,272.7 686.9,284.7" stroke="#85586a" stroke-width="5.9"/>
<polyline points="679,272.7 686.9,284.7" stroke="#c896a6" stroke-width="3.9"/>
<polyline points="679,272.7 686.9,284.7" stroke="#efd6de" stroke-width="1.1" stroke-opacity="0.75" transform="translate(-0.5,-0.6)"/>
<polyline points="690.9,288.7 698.9,282.7 706.8,284.7 712.8,288.7 714.8,294.6" stroke="#85586a" stroke-width="5.9"/>
<polyline points="690.9,288.7 698.9,282.7 706.8,284.7 712.8,288.7 714.8,294.6" stroke="#c896a6" stroke-width="3.9"/>
<polyline points="690.9,288.7 698.9,282.7 706.8,284.7 712.8,288.7 714.8,294.6" stroke="#efd6de" stroke-width="1.1" stroke-opacity="0.75" transform="translate(-0.5,-0.6)"/>
<polyline points="694.9,294.6 696.9,300.6" stroke="#85586a" stroke-width="5.9"/>
<polyline points="694.9,294.6 696.9,300.6" stroke="#c896a6" stroke-width="3.9"/>
<polyline points="694.9,294.6 696.9,300.6" stroke="#efd6de" stroke-width="1.1" stroke-opacity="0.75" transform="translate(-0.5,-0.6)"/>
<polyline points="708.8,288.7 706.8,298.6 708.8,304.6" stroke="#85586a" stroke-width="5.9"/>
<polyline points="708.8,288.7 706.8,298.6 708.8,304.6" stroke="#c896a6" stroke-width="3.9"/>
<polyline points="708.8,288.7 706.8,298.6 708.8,304.6" stroke="#efd6de" stroke-width="1.1" stroke-opacity="0.75" transform="translate(-0.5,-0.6)"/>
<polyline points="734.7,256.8 746.7,256.8 748.7,262.8 744.7,268.7 738.7,270.7 732.7,264.8 724.8,266.8" stroke="#85586a" stroke-width="5.9"/>
<polyline points="734.7,256.8 746.7,256.8 748.7,262.8 744.7,268.7 738.7,270.7 732.7,264.8 724.8,266.8" stroke="#c896a6" stroke-width="3.9"/>
<polyline points="734.7,256.8 746.7,256.8 748.7,262.8 744.7,268.7 738.7,270.7 732.7,264.8 724.8,266.8" stroke="#efd6de" stroke-width="1.1" stroke-opacity="0.75" transform="translate(-0.5,-0.6)"/>
<polyline points="738.7,270.7 740.7,280.7 744.7,286.7 754.6,286.7 764.6,284.7" stroke="#85586a" stroke-width="5.9"/>
<polyline points="738.7,270.7 740.7,280.7 744.7,286.7 754.6,286.7 764.6,284.7" stroke="#c896a6" stroke-width="3.9"/>
<polyline points="738.7,270.7 740.7,280.7 744.7,286.7 754.6,286.7 764.6,284.7" stroke="#efd6de" stroke-width="1.1" stroke-opacity="0.75" transform="translate(-0.5,-0.6)"/>
<polyline points="716.8,286.7 724.8,284.7 731,281" stroke="#85586a" stroke-width="5.9"/>
<polyline points="716.8,286.7 724.8,284.7 731,281" stroke="#c896a6" stroke-width="3.9"/>
<polyline points="716.8,286.7 724.8,284.7 731,281" stroke="#efd6de" stroke-width="1.1" stroke-opacity="0.75" transform="translate(-0.5,-0.6)"/>
<polyline points="693.5,289.1 699.8,284.3 706.2,285.9 707.8,292.3 704.6,300.3 709.4,306.7 706.2,313 707.8,321 714.2,325.8 715.8,330.6 714.2,336.9 707.8,338.5 703,340.1 704.6,348.1" stroke="#85586a" stroke-width="5.9"/>
<polyline points="693.5,289.1 699.8,284.3 706.2,285.9 707.8,292.3 704.6,300.3 709.4,306.7 706.2,313 707.8,321 714.2,325.8 715.8,330.6 714.2,336.9 707.8,338.5 703,340.1 704.6,348.1" stroke="#c896a6" stroke-width="3.9"/>
<polyline points="693.5,289.1 699.8,284.3 706.2,285.9 707.8,292.3 704.6,300.3 709.4,306.7 706.2,313 707.8,321 714.2,325.8 715.8,330.6 714.2,336.9 707.8,338.5 703,340.1 704.6,348.1" stroke="#efd6de" stroke-width="1.1" stroke-opacity="0.75" transform="translate(-0.5,-0.6)"/>
<polyline points="715.8,327.4 723.7,327.4 728.5,333.7 734.9,336.9 739.7,336.9" stroke="#85586a" stroke-width="5.9"/>
<polyline points="715.8,327.4 723.7,327.4 728.5,333.7 734.9,336.9 739.7,336.9" stroke="#c896a6" stroke-width="3.9"/>
<polyline points="715.8,327.4 723.7,327.4 728.5,333.7 734.9,336.9 739.7,336.9" stroke="#efd6de" stroke-width="1.1" stroke-opacity="0.75" transform="translate(-0.5,-0.6)"/>
<polyline points="728.5,333.7 725.3,340.1 722.2,344.9" stroke="#85586a" stroke-width="5.9"/>
<polyline points="728.5,333.7 725.3,340.1 722.2,344.9" stroke="#c896a6" stroke-width="3.9"/>
<polyline points="728.5,333.7 725.3,340.1 722.2,344.9" stroke="#efd6de" stroke-width="1.1" stroke-opacity="0.75" transform="translate(-0.5,-0.6)"/>
<polyline points="730,336.7 745.9,339 761.9,340.6" stroke="#85586a" stroke-width="5.9"/>
<polyline points="730,336.7 745.9,339 761.9,340.6" stroke="#c896a6" stroke-width="3.9"/>
<polyline points="730,336.7 745.9,339 761.9,340.6" stroke="#efd6de" stroke-width="1.1" stroke-opacity="0.75" transform="translate(-0.5,-0.6)"/>
<polyline points="731.6,335 745.9,337.5" stroke="#85586a" stroke-width="5.9"/>
<polyline points="731.6,335 745.9,337.5" stroke="#c896a6" stroke-width="3.9"/>
<polyline points="731.6,335 745.9,337.5" stroke="#efd6de" stroke-width="1.1" stroke-opacity="0.75" transform="translate(-0.5,-0.6)"/>
<polyline points="773,300 773,308 782.6,306.4 792.2,304.8 800.1,303.2 806.5,304.8" stroke="#85586a" stroke-width="5.9"/>
<polyline points="773,300 773,308 782.6,306.4 792.2,304.8 800.1,303.2 806.5,304.8" stroke="#c896a6" stroke-width="3.9"/>
<polyline points="773,300 773,308 782.6,306.4 792.2,304.8 800.1,303.2 806.5,304.8" stroke="#efd6de" stroke-width="1.1" stroke-opacity="0.75" transform="translate(-0.5,-0.6)"/>
<polyline points="774.6,320.7 785.8,317.5 796.9,315.9 806.5,315.9" stroke="#85586a" stroke-width="5.9"/>
<polyline points="774.6,320.7 785.8,317.5 796.9,315.9 806.5,315.9" stroke="#c896a6" stroke-width="3.9"/>
<polyline points="774.6,320.7 785.8,317.5 796.9,315.9 806.5,315.9" stroke="#efd6de" stroke-width="1.1" stroke-opacity="0.75" transform="translate(-0.5,-0.6)"/>
<polyline points="777.8,322.3 790.6,320.7 801.7,322.3 809.7,323.9" stroke="#85586a" stroke-width="5.9"/>
<polyline points="777.8,322.3 790.6,320.7 801.7,322.3 809.7,323.9" stroke="#c896a6" stroke-width="3.9"/>
<polyline points="777.8,322.3 790.6,320.7 801.7,322.3 809.7,323.9" stroke="#efd6de" stroke-width="1.1" stroke-opacity="0.75" transform="translate(-0.5,-0.6)"/>
<polyline points="790.6,309.6 796.9,312.7 804.9,309.6" stroke="#85586a" stroke-width="5.9"/>
<polyline points="790.6,309.6 796.9,312.7 804.9,309.6" stroke="#c896a6" stroke-width="3.9"/>
<polyline points="790.6,309.6 796.9,312.7 804.9,309.6" stroke="#efd6de" stroke-width="1.1" stroke-opacity="0.75" transform="translate(-0.5,-0.6)"/>
<polyline points="793.7,323.9 803.3,325.5 809.7,325.5" stroke="#85586a" stroke-width="5.9"/>
<polyline points="793.7,323.9 803.3,325.5 809.7,325.5" stroke="#c896a6" stroke-width="3.9"/>
<polyline points="793.7,323.9 803.3,325.5 809.7,325.5" stroke="#efd6de" stroke-width="1.1" stroke-opacity="0.75" transform="translate(-0.5,-0.6)"/>
<polyline points="777.8,341.4 790.6,343 796.9,338.2 803.3,336.7" stroke="#85586a" stroke-width="5.9"/>
<polyline points="777.8,341.4 790.6,343 796.9,338.2 803.3,336.7" stroke="#c896a6" stroke-width="3.9"/>
<polyline points="777.8,341.4 790.6,343 796.9,338.2 803.3,336.7" stroke="#efd6de" stroke-width="1.1" stroke-opacity="0.75" transform="translate(-0.5,-0.6)"/>
<polyline points="779.4,346.2 785.8,344.6" stroke="#85586a" stroke-width="5.9"/>
<polyline points="779.4,346.2 785.8,344.6" stroke="#c896a6" stroke-width="3.9"/>
<polyline points="779.4,346.2 785.8,344.6" stroke="#efd6de" stroke-width="1.1" stroke-opacity="0.75" transform="translate(-0.5,-0.6)"/>
<polyline points="790.6,343 792.2,347.8 798.5,351 803.3,352.6 804.9,360.6 803.3,366.9 798.5,370.1 792.2,368.5 782.6,368.5 777.8,370.1 774.6,376.5" stroke="#85586a" stroke-width="5.9"/>
<polyline points="790.6,343 792.2,347.8 798.5,351 803.3,352.6 804.9,360.6 803.3,366.9 798.5,370.1 792.2,368.5 782.6,368.5 777.8,370.1 774.6,376.5" stroke="#c896a6" stroke-width="3.9"/>
<polyline points="790.6,343 792.2,347.8 798.5,351 803.3,352.6 804.9,360.6 803.3,366.9 798.5,370.1 792.2,368.5 782.6,368.5 777.8,370.1 774.6,376.5" stroke="#efd6de" stroke-width="1.1" stroke-opacity="0.75" transform="translate(-0.5,-0.6)"/>
<polyline points="803.3,352.6 808.1,344.6 809.7,343" stroke="#85586a" stroke-width="5.9"/>
<polyline points="803.3,352.6 808.1,344.6 809.7,343" stroke="#c896a6" stroke-width="3.9"/>
<polyline points="803.3,352.6 808.1,344.6 809.7,343" stroke="#efd6de" stroke-width="1.1" stroke-opacity="0.75" transform="translate(-0.5,-0.6)"/>
<polyline points="730,362.2 738,360.6 747.5,360.6" stroke="#85586a" stroke-width="5.9"/>
<polyline points="730,362.2 738,360.6 747.5,360.6" stroke="#c896a6" stroke-width="3.9"/>
<polyline points="730,362.2 738,360.6 747.5,360.6" stroke="#efd6de" stroke-width="1.1" stroke-opacity="0.75" transform="translate(-0.5,-0.6)"/>
<polyline points="730,368.5 739.6,366.9 744.3,366.9 745.9,373.3 745.9,379.7" stroke="#85586a" stroke-width="5.9"/>
<polyline points="730,368.5 739.6,366.9 744.3,366.9 745.9,373.3 745.9,379.7" stroke="#c896a6" stroke-width="3.9"/>
<polyline points="730,368.5 739.6,366.9 744.3,366.9 745.9,373.3 745.9,379.7" stroke="#efd6de" stroke-width="1.1" stroke-opacity="0.75" transform="translate(-0.5,-0.6)"/>
<polyline points="730,373.3 738,371.7" stroke="#85586a" stroke-width="5.9"/>
<polyline points="730,373.3 738,371.7" stroke="#c896a6" stroke-width="3.9"/>
<polyline points="730,373.3 738,371.7" stroke="#efd6de" stroke-width="1.1" stroke-opacity="0.75" transform="translate(-0.5,-0.6)"/>
<polyline points="749.1,362.2 761.9,362.2 776.2,360.6" stroke="#85586a" stroke-width="5.9"/>
<polyline points="749.1,362.2 761.9,362.2 776.2,360.6" stroke="#c896a6" stroke-width="3.9"/>
<polyline points="749.1,362.2 761.9,362.2 776.2,360.6" stroke="#efd6de" stroke-width="1.1" stroke-opacity="0.75" transform="translate(-0.5,-0.6)"/>
<polyline points="750.7,365.3 765.1,365.3 777.8,363.7" stroke="#85586a" stroke-width="5.9"/>
<polyline points="750.7,365.3 765.1,365.3 777.8,363.7" stroke="#c896a6" stroke-width="3.9"/>
<polyline points="750.7,365.3 765.1,365.3 777.8,363.7" stroke="#efd6de" stroke-width="1.1" stroke-opacity="0.75" transform="translate(-0.5,-0.6)"/>
<polyline points="765.1,365.3 768.2,370.1 766.7,376.5" stroke="#85586a" stroke-width="5.9"/>
<polyline points="765.1,365.3 768.2,370.1 766.7,376.5" stroke="#c896a6" stroke-width="3.9"/>
<polyline points="765.1,365.3 768.2,370.1 766.7,376.5" stroke="#efd6de" stroke-width="1.1" stroke-opacity="0.75" transform="translate(-0.5,-0.6)"/>
<polyline points="769.8,366.9 773,373.3" stroke="#85586a" stroke-width="5.9"/>
<polyline points="769.8,366.9 773,373.3" stroke="#c896a6" stroke-width="3.9"/>
<polyline points="769.8,366.9 773,373.3" stroke="#efd6de" stroke-width="1.1" stroke-opacity="0.75" transform="translate(-0.5,-0.6)"/>
<polyline points="749.1,378.1 761.9,378.1" stroke="#85586a" stroke-width="5.9"/>
<polyline points="749.1,378.1 761.9,378.1" stroke="#c896a6" stroke-width="3.9"/>
<polyline points="749.1,378.1 761.9,378.1" stroke="#efd6de" stroke-width="1.1" stroke-opacity="0.75" transform="translate(-0.5,-0.6)"/>
<polyline points="800,305.1 809.6,306.7 817.5,305.9 822.3,314.6 823.9,317.8 820.7,321 815.9,319.4 811.2,321 808,321" stroke="#85586a" stroke-width="5.9"/>
<polyline points="800,305.1 809.6,306.7 817.5,305.9 822.3,314.6 823.9,317.8 820.7,321 815.9,319.4 811.2,321 808,321" stroke="#c896a6" stroke-width="3.9"/>
<polyline points="800,305.1 809.6,306.7 817.5,305.9 822.3,314.6 823.9,317.8 820.7,321 815.9,319.4 811.2,321 808,321" stroke="#efd6de" stroke-width="1.1" stroke-opacity="0.75" transform="translate(-0.5,-0.6)"/>
<polyline points="800,313 808,316.2" stroke="#85586a" stroke-width="5.9"/>
<polyline points="800,313 808,316.2" stroke="#c896a6" stroke-width="3.9"/>
<polyline points="800,313 808,316.2" stroke="#efd6de" stroke-width="1.1" stroke-opacity="0.75" transform="translate(-0.5,-0.6)"/>
<polyline points="800,322.6 809.6,322.6 817.5,325.8 823.9,324.2 828.7,329 830.3,330.6" stroke="#85586a" stroke-width="5.9"/>
<polyline points="800,322.6 809.6,322.6 817.5,325.8 823.9,324.2 828.7,329 830.3,330.6" stroke="#c896a6" stroke-width="3.9"/>
<polyline points="800,322.6 809.6,322.6 817.5,325.8 823.9,324.2 828.7,329 830.3,330.6" stroke="#efd6de" stroke-width="1.1" stroke-opacity="0.75" transform="translate(-0.5,-0.6)"/>
<polyline points="815.9,329 820.7,333.7 825.5,338.5 823.9,343.3 817.5,344.9 811.2,343.3 804.8,344.9 800,344.9" stroke="#85586a" stroke-width="5.9"/>
<polyline points="815.9,329 820.7,333.7 825.5,338.5 823.9,343.3 817.5,344.9 811.2,343.3 804.8,344.9 800,344.9" stroke="#c896a6" stroke-width="3.9"/>
<polyline points="815.9,329 820.7,333.7 825.5,338.5 823.9,343.3 817.5,344.9 811.2,343.3 804.8,344.9 800,344.9" stroke="#efd6de" stroke-width="1.1" stroke-opacity="0.75" transform="translate(-0.5,-0.6)"/>
<polyline points="800,336.9 804.8,335.3" stroke="#85586a" stroke-width="5.9"/>
<polyline points="800,336.9 804.8,335.3" stroke="#c896a6" stroke-width="3.9"/>
<polyline points="800,336.9 804.8,335.3" stroke="#efd6de" stroke-width="1.1" stroke-opacity="0.75" transform="translate(-0.5,-0.6)"/>
<polyline points="806.4,348.1 815.9,348.9 825.5,348.1" stroke="#85586a" stroke-width="5.9"/>
<polyline points="806.4,348.1 815.9,348.9 825.5,348.1" stroke="#c896a6" stroke-width="3.9"/>
<polyline points="806.4,348.1 815.9,348.9 825.5,348.1" stroke="#efd6de" stroke-width="1.1" stroke-opacity="0.75" transform="translate(-0.5,-0.6)"/>
<polyline points="705.9,340 705.9,349.6 712.3,354.3 717.1,355.9 720.3,362.3 715.5,368.7 717.1,370.3" stroke="#85586a" stroke-width="5.9"/>
<polyline points="705.9,340 705.9,349.6 712.3,354.3 717.1,355.9 720.3,362.3 715.5,368.7 717.1,370.3" stroke="#c896a6" stroke-width="3.9"/>
<polyline points="705.9,340 705.9,349.6 712.3,354.3 717.1,355.9 720.3,362.3 715.5,368.7 717.1,370.3" stroke="#efd6de" stroke-width="1.1" stroke-opacity="0.75" transform="translate(-0.5,-0.6)"/>
<polyline points="709.1,357.5 709.1,363.9" stroke="#85586a" stroke-width="5.9"/>
<polyline points="709.1,357.5 709.1,363.9" stroke="#c896a6" stroke-width="3.9"/>
<polyline points="709.1,357.5 709.1,363.9" stroke="#efd6de" stroke-width="1.1" stroke-opacity="0.75" transform="translate(-0.5,-0.6)"/>
<polyline points="718.7,365.5 733,362.3 747.4,360.7" stroke="#85586a" stroke-width="5.9"/>
<polyline points="718.7,365.5 733,362.3 747.4,360.7" stroke="#c896a6" stroke-width="3.9"/>
<polyline points="718.7,365.5 733,362.3 747.4,360.7" stroke="#efd6de" stroke-width="1.1" stroke-opacity="0.75" transform="translate(-0.5,-0.6)"/>
<polyline points="721.9,368.7 736.2,365.5 745.8,363.9" stroke="#85586a" stroke-width="5.9"/>
<polyline points="721.9,368.7 736.2,365.5 745.8,363.9" stroke="#c896a6" stroke-width="3.9"/>
<polyline points="721.9,368.7 736.2,365.5 745.8,363.9" stroke="#efd6de" stroke-width="1.1" stroke-opacity="0.75" transform="translate(-0.5,-0.6)"/>
<polyline points="721.9,371.9 723.5,378.2 726.7,383 733,386.2 742.6,387 753.7,386.2 761.7,384.6 769.7,383" stroke="#85586a" stroke-width="5.9"/>
<polyline points="721.9,371.9 723.5,378.2 726.7,383 733,386.2 742.6,387 753.7,386.2 761.7,384.6 769.7,383" stroke="#c896a6" stroke-width="3.9"/>
<polyline points="721.9,371.9 723.5,378.2 726.7,383 733,386.2 742.6,387 753.7,386.2 761.7,384.6 769.7,383" stroke="#efd6de" stroke-width="1.1" stroke-opacity="0.75" transform="translate(-0.5,-0.6)"/>
<polyline points="728.2,375.1 737.8,371.9 744.2,368.7 745.8,376.7" stroke="#85586a" stroke-width="5.9"/>
<polyline points="728.2,375.1 737.8,371.9 744.2,368.7 745.8,376.7" stroke="#c896a6" stroke-width="3.9"/>
<polyline points="728.2,375.1 737.8,371.9 744.2,368.7 745.8,376.7" stroke="#efd6de" stroke-width="1.1" stroke-opacity="0.75" transform="translate(-0.5,-0.6)"/>
<polyline points="734.6,381.4 745.8,378.2 761.7,377.5" stroke="#85586a" stroke-width="5.9"/>
<polyline points="734.6,381.4 745.8,378.2 761.7,377.5" stroke="#c896a6" stroke-width="3.9"/>
<polyline points="734.6,381.4 745.8,378.2 761.7,377.5" stroke="#efd6de" stroke-width="1.1" stroke-opacity="0.75" transform="translate(-0.5,-0.6)"/>
<polyline points="737.8,384.6 753.7,381.4 763.3,379.8" stroke="#85586a" stroke-width="5.9"/>
<polyline points="737.8,384.6 753.7,381.4 763.3,379.8" stroke="#c896a6" stroke-width="3.9"/>
<polyline points="737.8,384.6 753.7,381.4 763.3,379.8" stroke="#efd6de" stroke-width="1.1" stroke-opacity="0.75" transform="translate(-0.5,-0.6)"/>
<polyline points="747.4,387.8 744.2,394.2 742.6,400.6 745.8,406.9 749,413.3 750.6,419.7" stroke="#85586a" stroke-width="5.9"/>
<polyline points="747.4,387.8 744.2,394.2 742.6,400.6 745.8,406.9 749,413.3 750.6,419.7" stroke="#c896a6" stroke-width="3.9"/>
<polyline points="747.4,387.8 744.2,394.2 742.6,400.6 745.8,406.9 749,413.3 750.6,419.7" stroke="#efd6de" stroke-width="1.1" stroke-opacity="0.75" transform="translate(-0.5,-0.6)"/>
<polyline points="749,394.2 758.5,394.2 769.7,392.6" stroke="#85586a" stroke-width="5.9"/>
<polyline points="749,394.2 758.5,394.2 769.7,392.6" stroke="#c896a6" stroke-width="3.9"/>
<polyline points="749,394.2 758.5,394.2 769.7,392.6" stroke="#efd6de" stroke-width="1.1" stroke-opacity="0.75" transform="translate(-0.5,-0.6)"/>
<polyline points="750.6,397.4 761.7,399 769.7,397.4" stroke="#85586a" stroke-width="5.9"/>
<polyline points="750.6,397.4 761.7,399 769.7,397.4" stroke="#c896a6" stroke-width="3.9"/>
<polyline points="750.6,397.4 761.7,399 769.7,397.4" stroke="#efd6de" stroke-width="1.1" stroke-opacity="0.75" transform="translate(-0.5,-0.6)"/>
<polyline points="747.4,403.7 756.9,403.7 766.5,402.2" stroke="#85586a" stroke-width="5.9"/>
<polyline points="747.4,403.7 756.9,403.7 766.5,402.2" stroke="#c896a6" stroke-width="3.9"/>
<polyline points="747.4,403.7 756.9,403.7 766.5,402.2" stroke="#efd6de" stroke-width="1.1" stroke-opacity="0.75" transform="translate(-0.5,-0.6)"/>
<polyline points="750.6,406.9 763.3,406.9" stroke="#85586a" stroke-width="5.9"/>
<polyline points="750.6,406.9 763.3,406.9" stroke="#c896a6" stroke-width="3.9"/>
<polyline points="750.6,406.9 763.3,406.9" stroke="#efd6de" stroke-width="1.1" stroke-opacity="0.75" transform="translate(-0.5,-0.6)"/>
<polyline points="733,413.3 741,410.1 747.4,408.5" stroke="#85586a" stroke-width="5.9"/>
<polyline points="733,413.3 741,410.1 747.4,408.5" stroke="#c896a6" stroke-width="3.9"/>
<polyline points="733,413.3 741,410.1 747.4,408.5" stroke="#efd6de" stroke-width="1.1" stroke-opacity="0.75" transform="translate(-0.5,-0.6)"/>
<polyline points="737.8,414.9 745.8,413.3" stroke="#85586a" stroke-width="5.9"/>
<polyline points="737.8,414.9 745.8,413.3" stroke="#c896a6" stroke-width="3.9"/>
<polyline points="737.8,414.9 745.8,413.3" stroke="#efd6de" stroke-width="1.1" stroke-opacity="0.75" transform="translate(-0.5,-0.6)"/>
<polyline points="734.6,340 745.8,340.8 761.7,340" stroke="#85586a" stroke-width="5.9"/>
<polyline points="734.6,340 745.8,340.8 761.7,340" stroke="#c896a6" stroke-width="3.9"/>
<polyline points="734.6,340 745.8,340.8 761.7,340" stroke="#efd6de" stroke-width="1.1" stroke-opacity="0.75" transform="translate(-0.5,-0.6)"/>
<polyline points="721.9,343.2 726.7,340" stroke="#85586a" stroke-width="5.9"/>
<polyline points="721.9,343.2 726.7,340" stroke="#c896a6" stroke-width="3.9"/>
<polyline points="721.9,343.2 726.7,340" stroke="#efd6de" stroke-width="1.1" stroke-opacity="0.75" transform="translate(-0.5,-0.6)"/>
<polyline points="750.6,362.3 761.7,363.9 769.7,363.9" stroke="#85586a" stroke-width="5.9"/>
<polyline points="750.6,362.3 761.7,363.9 769.7,363.9" stroke="#c896a6" stroke-width="3.9"/>
<polyline points="750.6,362.3 761.7,363.9 769.7,363.9" stroke="#efd6de" stroke-width="1.1" stroke-opacity="0.75" transform="translate(-0.5,-0.6)"/>
<polyline points="766.5,365.5 768.1,373.5 769.7,375" stroke="#85586a" stroke-width="5.9"/>
<polyline points="766.5,365.5 768.1,373.5 769.7,375" stroke="#c896a6" stroke-width="3.9"/>
<polyline points="766.5,365.5 768.1,373.5 769.7,375" stroke="#efd6de" stroke-width="1.1" stroke-opacity="0.75" transform="translate(-0.5,-0.6)"/>
<polyline points="779.6,340 782.7,344.8 790.7,344.8" stroke="#85586a" stroke-width="5.9"/>
<polyline points="779.6,340 782.7,344.8 790.7,344.8" stroke="#c896a6" stroke-width="3.9"/>
<polyline points="779.6,340 782.7,344.8 790.7,344.8" stroke="#efd6de" stroke-width="1.1" stroke-opacity="0.75" transform="translate(-0.5,-0.6)"/>
<polyline points="793.9,340 792.3,348 797.1,351.2 803.5,352.7 805.1,344.8 811.4,343.2 816.2,346.4 819.4,349.6 824.2,351.2 825.8,344.8 825.8,340" stroke="#85586a" stroke-width="5.9"/>
<polyline points="793.9,340 792.3,348 797.1,351.2 803.5,352.7 805.1,344.8 811.4,343.2 816.2,346.4 819.4,349.6 824.2,351.2 825.8,344.8 825.8,340" stroke="#c896a6" stroke-width="3.9"/>
<polyline points="793.9,340 792.3,348 797.1,351.2 803.5,352.7 805.1,344.8 811.4,343.2 816.2,346.4 819.4,349.6 824.2,351.2 825.8,344.8 825.8,340" stroke="#efd6de" stroke-width="1.1" stroke-opacity="0.75" transform="translate(-0.5,-0.6)"/>
<polyline points="803.5,352.7 805.1,360.7 803.5,368.7 798.7,370.3 790.7,368.7 782.7,368.7 778,370.3 774.8,375.1 776.4,379.8 776.4,387.8 774.8,394.2 770,395.8" stroke="#85586a" stroke-width="5.9"/>
<polyline points="803.5,352.7 805.1,360.7 803.5,368.7 798.7,370.3 790.7,368.7 782.7,368.7 778,370.3 774.8,375.1 776.4,379.8 776.4,387.8 774.8,394.2 770,395.8" stroke="#c896a6" stroke-width="3.9"/>
<polyline points="803.5,352.7 805.1,360.7 803.5,368.7 798.7,370.3 790.7,368.7 782.7,368.7 778,370.3 774.8,375.1 776.4,379.8 776.4,387.8 774.8,394.2 770,395.8" stroke="#efd6de" stroke-width="1.1" stroke-opacity="0.75" transform="translate(-0.5,-0.6)"/>
<polyline points="770,360.7 776.4,362.3" stroke="#85586a" stroke-width="5.9"/>
<polyline points="770,360.7 776.4,362.3" stroke="#c896a6" stroke-width="3.9"/>
<polyline points="770,360.7 776.4,362.3" stroke="#efd6de" stroke-width="1.1" stroke-opacity="0.75" transform="translate(-0.5,-0.6)"/>
<polyline points="770,365.5 778,363.9" stroke="#85586a" stroke-width="5.9"/>
<polyline points="770,365.5 778,363.9" stroke="#c896a6" stroke-width="3.9"/>
<polyline points="770,365.5 778,363.9" stroke="#efd6de" stroke-width="1.1" stroke-opacity="0.75" transform="translate(-0.5,-0.6)"/>
<polyline points="778,378.2 781.2,386.2 784.3,392.6 787.5,395.8 793.9,400.6 800.3,397.4 803.5,392.6 806.7,387.8 813,386.2 817.8,391 821,395.8 817.8,402.2 816.2,408.5 813,414.9 809.8,419.7" stroke="#85586a" stroke-width="5.9"/>
<polyline points="778,378.2 781.2,386.2 784.3,392.6 787.5,395.8 793.9,400.6 800.3,397.4 803.5,392.6 806.7,387.8 813,386.2 817.8,391 821,395.8 817.8,402.2 816.2,408.5 813,414.9 809.8,419.7" stroke="#c896a6" stroke-width="3.9"/>
<polyline points="778,378.2 781.2,386.2 784.3,392.6 787.5,395.8 793.9,400.6 800.3,397.4 803.5,392.6 806.7,387.8 813,386.2 817.8,391 821,395.8 817.8,402.2 816.2,408.5 813,414.9 809.8,419.7" stroke="#efd6de" stroke-width="1.1" stroke-opacity="0.75" transform="translate(-0.5,-0.6)"/>
<polyline points="784.3,392.6 779.6,400.6 779.6,406.9 784.3,410.1 792.3,406.9 795.5,405.3" stroke="#85586a" stroke-width="5.9"/>
<polyline points="784.3,392.6 779.6,400.6 779.6,406.9 784.3,410.1 792.3,406.9 795.5,405.3" stroke="#c896a6" stroke-width="3.9"/>
<polyline points="784.3,392.6 779.6,400.6 779.6,406.9 784.3,410.1 792.3,406.9 795.5,405.3" stroke="#efd6de" stroke-width="1.1" stroke-opacity="0.75" transform="translate(-0.5,-0.6)"/>
<polyline points="779.6,411.7 789.1,410.1" stroke="#85586a" stroke-width="5.9"/>
<polyline points="779.6,411.7 789.1,410.1" stroke="#c896a6" stroke-width="3.9"/>
<polyline points="779.6,411.7 789.1,410.1" stroke="#efd6de" stroke-width="1.1" stroke-opacity="0.75" transform="translate(-0.5,-0.6)"/>
<polyline points="784.3,410.1 787.5,402.2" stroke="#85586a" stroke-width="5.9"/>
<polyline points="784.3,410.1 787.5,402.2" stroke="#c896a6" stroke-width="3.9"/>
<polyline points="784.3,410.1 787.5,402.2" stroke="#efd6de" stroke-width="1.1" stroke-opacity="0.75" transform="translate(-0.5,-0.6)"/>
<polyline points="817.8,402.2 824.2,403.7 829,402.2 830.6,397.4 835.3,394.2 840.1,397.4 843.3,403.7 848.1,405.3" stroke="#85586a" stroke-width="5.9"/>
<polyline points="817.8,402.2 824.2,403.7 829,402.2 830.6,397.4 835.3,394.2 840.1,397.4 843.3,403.7 848.1,405.3" stroke="#c896a6" stroke-width="3.9"/>
<polyline points="817.8,402.2 824.2,403.7 829,402.2 830.6,397.4 835.3,394.2 840.1,397.4 843.3,403.7 848.1,405.3" stroke="#efd6de" stroke-width="1.1" stroke-opacity="0.75" transform="translate(-0.5,-0.6)"/>
<polyline points="840.1,397.4 838.5,406.9 840.1,413.3 846.5,410.1" stroke="#85586a" stroke-width="5.9"/>
<polyline points="840.1,397.4 838.5,406.9 840.1,413.3 846.5,410.1" stroke="#c896a6" stroke-width="3.9"/>
<polyline points="840.1,397.4 838.5,406.9 840.1,413.3 846.5,410.1" stroke="#efd6de" stroke-width="1.1" stroke-opacity="0.75" transform="translate(-0.5,-0.6)"/>
<polyline points="809.8,414.9 817.8,413.3 825.8,413.3" stroke="#85586a" stroke-width="5.9"/>
<polyline points="809.8,414.9 817.8,413.3 825.8,413.3" stroke="#c896a6" stroke-width="3.9"/>
<polyline points="809.8,414.9 817.8,413.3 825.8,413.3" stroke="#efd6de" stroke-width="1.1" stroke-opacity="0.75" transform="translate(-0.5,-0.6)"/>
<polyline points="731.9,413.2 735.1,416.4 744.6,413.2 751,411.6" stroke="#85586a" stroke-width="5.9"/>
<polyline points="731.9,413.2 735.1,416.4 744.6,413.2 751,411.6" stroke="#c896a6" stroke-width="3.9"/>
<polyline points="731.9,413.2 735.1,416.4 744.6,413.2 751,411.6" stroke="#efd6de" stroke-width="1.1" stroke-opacity="0.75" transform="translate(-0.5,-0.6)"/>
<polyline points="730.3,422.7 739.8,422.7 747.8,422.7 749.4,418 747.8,413.2" stroke="#85586a" stroke-width="5.9"/>
<polyline points="730.3,422.7 739.8,422.7 747.8,422.7 749.4,418 747.8,413.2" stroke="#c896a6" stroke-width="3.9"/>
<polyline points="730.3,422.7 739.8,422.7 747.8,422.7 749.4,418 747.8,413.2" stroke="#efd6de" stroke-width="1.1" stroke-opacity="0.75" transform="translate(-0.5,-0.6)"/>
<polyline points="730.3,422.7 733.5,429.1 730.3,435.5 728.7,441.9 731.9,446.7 735.1,451.4 733.5,457.8 736.7,462.6 739.8,469 746.2,469 747.8,464.2 754.2,464.2 759,470.6 757.4,476.9 760.6,481.7 766.9,483.3 773.3,478.5 779.7,475.3" stroke="#85586a" stroke-width="5.9"/>
<polyline points="730.3,422.7 733.5,429.1 730.3,435.5 728.7,441.9 731.9,446.7 735.1,451.4 733.5,457.8 736.7,462.6 739.8,469 746.2,469 747.8,464.2 754.2,464.2 759,470.6 757.4,476.9 760.6,481.7 766.9,483.3 773.3,478.5 779.7,475.3" stroke="#c896a6" stroke-width="3.9"/>
<polyline points="730.3,422.7 733.5,429.1 730.3,435.5 728.7,441.9 731.9,446.7 735.1,451.4 733.5,457.8 736.7,462.6 739.8,469 746.2,469 747.8,464.2 754.2,464.2 759,470.6 757.4,476.9 760.6,481.7 766.9,483.3 773.3,478.5 779.7,475.3" stroke="#efd6de" stroke-width="1.1" stroke-opacity="0.75" transform="translate(-0.5,-0.6)"/>
<polyline points="725.5,448.2 733.5,448.2 738.2,445.1 738.2,438.7 735.1,437.1 730.3,435.5" stroke="#85586a" stroke-width="5.9"/>
<polyline points="725.5,448.2 733.5,448.2 738.2,445.1 738.2,438.7 735.1,437.1 730.3,435.5" stroke="#c896a6" stroke-width="3.9"/>
<polyline points="725.5,448.2 733.5,448.2 738.2,445.1 738.2,438.7 735.1,437.1 730.3,435.5" stroke="#efd6de" stroke-width="1.1" stroke-opacity="0.75" transform="translate(-0.5,-0.6)"/>
<polyline points="735.1,437.1 747.8,432.3 760.6,425.9 773.3,419.6" stroke="#85586a" stroke-width="5.9"/>
<polyline points="735.1,437.1 747.8,432.3 760.6,425.9 773.3,419.6" stroke="#c896a6" stroke-width="3.9"/>
<polyline points="735.1,437.1 747.8,432.3 760.6,425.9 773.3,419.6" stroke="#efd6de" stroke-width="1.1" stroke-opacity="0.75" transform="translate(-0.5,-0.6)"/>
<polyline points="736.7,435.5 751,429.1 763.7,424.3 774.9,418.8" stroke="#85586a" stroke-width="5.9"/>
<polyline points="736.7,435.5 751,429.1 763.7,424.3 774.9,418.8" stroke="#c896a6" stroke-width="3.9"/>
<polyline points="736.7,435.5 751,429.1 763.7,424.3 774.9,418.8" stroke="#efd6de" stroke-width="1.1" stroke-opacity="0.75" transform="translate(-0.5,-0.6)"/>
<polyline points="749.4,453 760.6,449.8 770.1,445.1 779.7,440.3" stroke="#85586a" stroke-width="5.9"/>
<polyline points="749.4,453 760.6,449.8 770.1,445.1 779.7,440.3" stroke="#c896a6" stroke-width="3.9"/>
<polyline points="749.4,453 760.6,449.8 770.1,445.1 779.7,440.3" stroke="#efd6de" stroke-width="1.1" stroke-opacity="0.75" transform="translate(-0.5,-0.6)"/>
<polyline points="752.6,454.6 766.9,449.8 779.7,443.5" stroke="#85586a" stroke-width="5.9"/>
<polyline points="752.6,454.6 766.9,449.8 779.7,443.5" stroke="#c896a6" stroke-width="3.9"/>
<polyline points="752.6,454.6 766.9,449.8 779.7,443.5" stroke="#efd6de" stroke-width="1.1" stroke-opacity="0.75" transform="translate(-0.5,-0.6)"/>
<polyline points="759,453 762.2,457.8 763.7,461 759,465.8" stroke="#85586a" stroke-width="5.9"/>
<polyline points="759,453 762.2,457.8 763.7,461 759,465.8" stroke="#c896a6" stroke-width="3.9"/>
<polyline points="759,453 762.2,457.8 763.7,461 759,465.8" stroke="#efd6de" stroke-width="1.1" stroke-opacity="0.75" transform="translate(-0.5,-0.6)"/>
<polyline points="779.6,413.2 790.7,410" stroke="#85586a" stroke-width="5.9"/>
<polyline points="779.6,413.2 790.7,410" stroke="#c896a6" stroke-width="3.9"/>
<polyline points="779.6,413.2 790.7,410" stroke="#efd6de" stroke-width="1.1" stroke-opacity="0.75" transform="translate(-0.5,-0.6)"/>
<polyline points="770,421.2 774.8,419.6" stroke="#85586a" stroke-width="5.9"/>
<polyline points="770,421.2 774.8,419.6" stroke="#c896a6" stroke-width="3.9"/>
<polyline points="770,421.2 774.8,419.6" stroke="#efd6de" stroke-width="1.1" stroke-opacity="0.75" transform="translate(-0.5,-0.6)"/>
<polyline points="800.3,424.3 811.4,419.6 825.8,414.8" stroke="#85586a" stroke-width="5.9"/>
<polyline points="800.3,424.3 811.4,419.6 825.8,414.8" stroke="#c896a6" stroke-width="3.9"/>
<polyline points="800.3,424.3 811.4,419.6 825.8,414.8" stroke="#efd6de" stroke-width="1.1" stroke-opacity="0.75" transform="translate(-0.5,-0.6)"/>
<polyline points="813,410 816.2,416.4" stroke="#85586a" stroke-width="5.9"/>
<polyline points="813,410 816.2,416.4" stroke="#c896a6" stroke-width="3.9"/>
<polyline points="813,410 816.2,416.4" stroke="#efd6de" stroke-width="1.1" stroke-opacity="0.75" transform="translate(-0.5,-0.6)"/>
<polyline points="770,446.7 778,441.9 787.5,437.1" stroke="#85586a" stroke-width="5.9"/>
<polyline points="770,446.7 778,441.9 787.5,437.1" stroke="#c896a6" stroke-width="3.9"/>
<polyline points="770,446.7 778,441.9 787.5,437.1" stroke="#efd6de" stroke-width="1.1" stroke-opacity="0.75" transform="translate(-0.5,-0.6)"/>
<polyline points="770,443.5 776.4,440.3" stroke="#85586a" stroke-width="5.9"/>
<polyline points="770,443.5 776.4,440.3" stroke="#c896a6" stroke-width="3.9"/>
<polyline points="770,443.5 776.4,440.3" stroke="#efd6de" stroke-width="1.1" stroke-opacity="0.75" transform="translate(-0.5,-0.6)"/>
<polyline points="808.2,438.7 817.8,435.5 827.4,429.1 833.7,425.9 843.3,422.7 846.5,419.6 840.1,416.4 838.5,411.6" stroke="#85586a" stroke-width="5.9"/>
<polyline points="808.2,438.7 817.8,435.5 827.4,429.1 833.7,425.9 843.3,422.7 846.5,419.6 840.1,416.4 838.5,411.6" stroke="#c896a6" stroke-width="3.9"/>
<polyline points="808.2,438.7 817.8,435.5 827.4,429.1 833.7,425.9 843.3,422.7 846.5,419.6 840.1,416.4 838.5,411.6" stroke="#efd6de" stroke-width="1.1" stroke-opacity="0.75" transform="translate(-0.5,-0.6)"/>
<polyline points="819.4,437.1 825.8,432.3 832.2,430.7" stroke="#85586a" stroke-width="5.9"/>
<polyline points="819.4,437.1 825.8,432.3 832.2,430.7" stroke="#c896a6" stroke-width="3.9"/>
<polyline points="819.4,437.1 825.8,432.3 832.2,430.7" stroke="#efd6de" stroke-width="1.1" stroke-opacity="0.75" transform="translate(-0.5,-0.6)"/>
<polyline points="782.7,464.2 793.9,459.4 805.1,451.4 817.8,441.9" stroke="#85586a" stroke-width="5.9"/>
<polyline points="782.7,464.2 793.9,459.4 805.1,451.4 817.8,441.9" stroke="#c896a6" stroke-width="3.9"/>
<polyline points="782.7,464.2 793.9,459.4 805.1,451.4 817.8,441.9" stroke="#efd6de" stroke-width="1.1" stroke-opacity="0.75" transform="translate(-0.5,-0.6)"/>
<polyline points="784.3,466 795.5,461 806.7,453 819,444" stroke="#85586a" stroke-width="5.9"/>
<polyline points="784.3,466 795.5,461 806.7,453 819,444" stroke="#c896a6" stroke-width="3.9"/>
<polyline points="784.3,466 795.5,461 806.7,453 819,444" stroke="#efd6de" stroke-width="1.1" stroke-opacity="0.75" transform="translate(-0.5,-0.6)"/>
<polyline points="792.3,464.2 798.7,470.6 793.9,475.3 789.1,473.7 782.7,472.2 774.8,475.3 770,476.9" stroke="#85586a" stroke-width="5.9"/>
<polyline points="792.3,464.2 798.7,470.6 793.9,475.3 789.1,473.7 782.7,472.2 774.8,475.3 770,476.9" stroke="#c896a6" stroke-width="3.9"/>
<polyline points="792.3,464.2 798.7,470.6 793.9,475.3 789.1,473.7 782.7,472.2 774.8,475.3 770,476.9" stroke="#efd6de" stroke-width="1.1" stroke-opacity="0.75" transform="translate(-0.5,-0.6)"/>
<polyline points="790.7,475.3 793.9,483.3 793.9,488.1" stroke="#85586a" stroke-width="5.9"/>
<polyline points="790.7,475.3 793.9,483.3 793.9,488.1" stroke="#c896a6" stroke-width="3.9"/>
<polyline points="790.7,475.3 793.9,483.3 793.9,488.1" stroke="#efd6de" stroke-width="1.1" stroke-opacity="0.75" transform="translate(-0.5,-0.6)"/>
</g>
<g fill="none" stroke-linecap="round" stroke-linejoin="round">
<polyline points="790.6,17 785.9,29.7 784.3,34.5 788.2,41.7 792.2,46.4 789,56 787.5,60.8" stroke="#2d765f" stroke-width="5.800000000000001"/>
<polyline points="790.6,17 785.9,29.7 784.3,34.5 788.2,41.7 792.2,46.4 789,56 787.5,60.8" stroke="#58b596" stroke-width="3.8000000000000003"/>
<polyline points="790.6,17 785.9,29.7 784.3,34.5 788.2,41.7 792.2,46.4 789,56 787.5,60.8" stroke="#a6e4cc" stroke-width="1.1" stroke-opacity="0.75" transform="translate(-0.5,-0.6)"/>
<polyline points="790.6,17 796.2,22.5 801,27.3 799.4,32.1 794.6,33.7 790.6,28.9 787.5,31" stroke="#2d765f" stroke-width="5.800000000000001"/>
<polyline points="790.6,17 796.2,22.5 801,27.3 799.4,32.1 794.6,33.7 790.6,28.9 787.5,31" stroke="#58b596" stroke-width="3.8000000000000003"/>
<polyline points="790.6,17 796.2,22.5 801,27.3 799.4,32.1 794.6,33.7 790.6,28.9 787.5,31" stroke="#a6e4cc" stroke-width="1.1" stroke-opacity="0.75" transform="translate(-0.5,-0.6)"/>
<polyline points="793,36.9 799.4,36.9 801.8,40.9" stroke="#2d765f" stroke-width="5.800000000000001"/>
<polyline points="793,36.9 799.4,36.9 801.8,40.9" stroke="#58b596" stroke-width="3.8000000000000003"/>
<polyline points="793,36.9 799.4,36.9 801.8,40.9" stroke="#a6e4cc" stroke-width="1.1" stroke-opacity="0.75" transform="translate(-0.5,-0.6)"/>
<polyline points="799.4,36.9 799.4,46.4 797.8,52.8 793.8,55.2" stroke="#2d765f" stroke-width="5.800000000000001"/>
<polyline points="799.4,36.9 799.4,46.4 797.8,52.8 793.8,55.2" stroke="#58b596" stroke-width="3.8000000000000003"/>
<polyline points="799.4,36.9 799.4,46.4 797.8,52.8 793.8,55.2" stroke="#a6e4cc" stroke-width="1.1" stroke-opacity="0.75" transform="translate(-0.5,-0.6)"/>
<polyline points="757.9,51.9 767,47 777.8,42 781,44 779.8,46.9 770,51.5 761.9,55.9 757.9,51.9" stroke="#2d765f" stroke-width="5.800000000000001"/>
<polyline points="757.9,51.9 767,47 777.8,42 781,44 779.8,46.9 770,51.5 761.9,55.9 757.9,51.9" stroke="#58b596" stroke-width="3.8000000000000003"/>
<polyline points="757.9,51.9 767,47 777.8,42 781,44 779.8,46.9 770,51.5 761.9,55.9 757.9,51.9" stroke="#a6e4cc" stroke-width="1.1" stroke-opacity="0.75" transform="translate(-0.5,-0.6)"/>
<polyline points="777.8,42 785.8,41 789.8,44" stroke="#2d765f" stroke-width="5.800000000000001"/>
<polyline points="777.8,42 785.8,41 789.8,44" stroke="#58b596" stroke-width="3.8000000000000003"/>
<polyline points="777.8,42 785.8,41 789.8,44" stroke="#a6e4cc" stroke-width="1.1" stroke-opacity="0.75" transform="translate(-0.5,-0.6)"/>
<polyline points="787.8,30 786.8,36 791.8,42 790.8,49.9 787.8,57.9 785.8,62.9" stroke="#2d765f" stroke-width="5.800000000000001"/>
<polyline points="787.8,30 786.8,36 791.8,42 790.8,49.9 787.8,57.9 785.8,62.9" stroke="#58b596" stroke-width="3.8000000000000003"/>
<polyline points="787.8,30 786.8,36 791.8,42 790.8,49.9 787.8,57.9 785.8,62.9" stroke="#a6e4cc" stroke-width="1.1" stroke-opacity="0.75" transform="translate(-0.5,-0.6)"/>
<polyline points="795.8,30 799.8,38 797.8,44 799.8,49.9 795.8,53.9" stroke="#2d765f" stroke-width="5.800000000000001"/>
<polyline points="795.8,30 799.8,38 797.8,44 799.8,49.9 795.8,53.9" stroke="#58b596" stroke-width="3.8000000000000003"/>
<polyline points="795.8,30 799.8,38 797.8,44 799.8,49.9 795.8,53.9" stroke="#a6e4cc" stroke-width="1.1" stroke-opacity="0.75" transform="translate(-0.5,-0.6)"/>
<polyline points="765.9,61.9 775.9,57.9 783.8,55.9 791.8,59.9 793.8,65.9 789.8,71.8 781.8,73.8" stroke="#2d765f" stroke-width="5.800000000000001"/>
<polyline points="765.9,61.9 775.9,57.9 783.8,55.9 791.8,59.9 793.8,65.9 789.8,71.8 781.8,73.8" stroke="#58b596" stroke-width="3.8000000000000003"/>
<polyline points="765.9,61.9 775.9,57.9 783.8,55.9 791.8,59.9 793.8,65.9 789.8,71.8 781.8,73.8" stroke="#a6e4cc" stroke-width="1.1" stroke-opacity="0.75" transform="translate(-0.5,-0.6)"/>
<polyline points="769.9,65.9 783.8,63.9 789.8,67.8" stroke="#2d765f" stroke-width="5.800000000000001"/>
<polyline points="769.9,65.9 783.8,63.9 789.8,67.8" stroke="#58b596" stroke-width="3.8000000000000003"/>
<polyline points="769.9,65.9 783.8,63.9 789.8,67.8" stroke="#a6e4cc" stroke-width="1.1" stroke-opacity="0.75" transform="translate(-0.5,-0.6)"/>
<polyline points="763.9,63.9 762.9,73.8 761.9,81.8 763.9,89.8 761.9,97.7 757.9,101.7" stroke="#2d765f" stroke-width="5.800000000000001"/>
<polyline points="763.9,63.9 762.9,73.8 761.9,81.8 763.9,89.8 761.9,97.7 757.9,101.7" stroke="#58b596" stroke-width="3.8000000000000003"/>
<polyline points="763.9,63.9 762.9,73.8 761.9,81.8 763.9,89.8 761.9,97.7 757.9,101.7" stroke="#a6e4cc" stroke-width="1.1" stroke-opacity="0.75" transform="translate(-0.5,-0.6)"/>
<polyline points="740,89.8 752,89.8 763.9,89.8 773.9,89.8 775.9,95.7" stroke="#2d765f" stroke-width="5.800000000000001"/>
<polyline points="740,89.8 752,89.8 763.9,89.8 773.9,89.8 775.9,95.7" stroke="#58b596" stroke-width="3.8000000000000003"/>
<polyline points="740,89.8 752,89.8 763.9,89.8 773.9,89.8 775.9,95.7" stroke="#a6e4cc" stroke-width="1.1" stroke-opacity="0.75" transform="translate(-0.5,-0.6)"/>
<polyline points="765.9,77.8 779.8,75.8 791.8,77.8" stroke="#2d765f" stroke-width="5.800000000000001"/>
<polyline points="765.9,77.8 779.8,75.8 791.8,77.8" stroke="#58b596" stroke-width="3.8000000000000003"/>
<polyline points="765.9,77.8 779.8,75.8 791.8,77.8" stroke="#a6e4cc" stroke-width="1.1" stroke-opacity="0.75" transform="translate(-0.5,-0.6)"/>
<polyline points="769.9,81.8 785.8,80.8" stroke="#2d765f" stroke-width="5.800000000000001"/>
<polyline points="769.9,81.8 785.8,80.8" stroke="#58b596" stroke-width="3.8000000000000003"/>
<polyline points="769.9,81.8 785.8,80.8" stroke="#a6e4cc" stroke-width="1.1" stroke-opacity="0.75" transform="translate(-0.5,-0.6)"/>
<polyline points="773.9,85.8 787.8,83.8" stroke="#2d765f" stroke-width="5.800000000000001"/>
<polyline points="773.9,85.8 787.8,83.8" stroke="#58b596" stroke-width="3.8000000000000003"/>
<polyline points="773.9,85.8 787.8,83.8" stroke="#a6e4cc" stroke-width="1.1" stroke-opacity="0.75" transform="translate(-0.5,-0.6)"/>
<polyline points="777.8,89.8 791.8,88.8 799.8,89.8 805.7,93.7 807.7,99.7" stroke="#2d765f" stroke-width="5.800000000000001"/>
<polyline points="777.8,89.8 791.8,88.8 799.8,89.8 805.7,93.7 807.7,99.7" stroke="#58b596" stroke-width="3.8000000000000003"/>
<polyline points="777.8,89.8 791.8,88.8 799.8,89.8 805.7,93.7 807.7,99.7" stroke="#a6e4cc" stroke-width="1.1" stroke-opacity="0.75" transform="translate(-0.5,-0.6)"/>
<polyline points="779.8,95.7 793.8,93.7" stroke="#2d765f" stroke-width="5.800000000000001"/>
<polyline points="779.8,95.7 793.8,93.7" stroke="#58b596" stroke-width="3.8000000000000003"/>
<polyline points="779.8,95.7 793.8,93.7" stroke="#a6e4cc" stroke-width="1.1" stroke-opacity="0.75" transform="translate(-0.5,-0.6)"/>
<polyline points="781.8,99.7 797.8,98.7" stroke="#2d765f" stroke-width="5.800000000000001"/>
<polyline points="781.8,99.7 797.8,98.7" stroke="#58b596" stroke-width="3.8000000000000003"/>
<polyline points="781.8,99.7 797.8,98.7" stroke="#a6e4cc" stroke-width="1.1" stroke-opacity="0.75" transform="translate(-0.5,-0.6)"/>
<polyline points="779.8,103.7 791.8,101.7 803.7,103.7" stroke="#2d765f" stroke-width="5.800000000000001"/>
<polyline points="779.8,103.7 791.8,101.7 803.7,103.7" stroke="#58b596" stroke-width="3.8000000000000003"/>
<polyline points="779.8,103.7 791.8,101.7 803.7,103.7" stroke="#a6e4cc" stroke-width="1.1" stroke-opacity="0.75" transform="translate(-0.5,-0.6)"/>
<polyline points="783.8,108.7 799.8,107.7 809.7,105.7" stroke="#2d765f" stroke-width="5.800000000000001"/>
<polyline points="783.8,108.7 799.8,107.7 809.7,105.7" stroke="#58b596" stroke-width="3.8000000000000003"/>
<polyline points="783.8,108.7 799.8,107.7 809.7,105.7" stroke="#a6e4cc" stroke-width="1.1" stroke-opacity="0.75" transform="translate(-0.5,-0.6)"/>
<polyline points="789.8,111.7 805.7,109.7" stroke="#2d765f" stroke-width="5.800000000000001"/>
<polyline points="789.8,111.7 805.7,109.7" stroke="#58b596" stroke-width="3.8000000000000003"/>
<polyline points="789.8,111.7 805.7,109.7" stroke="#a6e4cc" stroke-width="1.1" stroke-opacity="0.75" transform="translate(-0.5,-0.6)"/>
<polyline points="805.7,101.7 815.7,103.7 819.7,109.7 823.7,113.7 821.7,119.6" stroke="#2d765f" stroke-width="5.800000000000001"/>
<polyline points="805.7,101.7 815.7,103.7 819.7,109.7 823.7,113.7 821.7,119.6" stroke="#58b596" stroke-width="3.8000000000000003"/>
<polyline points="805.7,101.7 815.7,103.7 819.7,109.7 823.7,113.7 821.7,119.6" stroke="#a6e4cc" stroke-width="1.1" stroke-opacity="0.75" transform="translate(-0.5,-0.6)"/>
<polyline points="815.7,113.7 819.7,121.6 825.7,125.6" stroke="#2d765f" stroke-width="5.800000000000001"/>
<polyline points="815.7,113.7 819.7,121.6 825.7,125.6" stroke="#58b596" stroke-width="3.8000000000000003"/>
<polyline points="815.7,113.7 819.7,121.6 825.7,125.6" stroke="#a6e4cc" stroke-width="1.1" stroke-opacity="0.75" transform="translate(-0.5,-0.6)"/>
<polyline points="787.8,123.6 803.7,119.6 811.7,117.6" stroke="#2d765f" stroke-width="5.800000000000001"/>
<polyline points="787.8,123.6 803.7,119.6 811.7,117.6" stroke="#58b596" stroke-width="3.8000000000000003"/>
<polyline points="787.8,123.6 803.7,119.6 811.7,117.6" stroke="#a6e4cc" stroke-width="1.1" stroke-opacity="0.75" transform="translate(-0.5,-0.6)"/>
<polyline points="791.8,127.6 807.7,125.6" stroke="#2d765f" stroke-width="5.800000000000001"/>
<polyline points="791.8,127.6 807.7,125.6" stroke="#58b596" stroke-width="3.8000000000000003"/>
<polyline points="791.8,127.6 807.7,125.6" stroke="#a6e4cc" stroke-width="1.1" stroke-opacity="0.75" transform="translate(-0.5,-0.6)"/>
<polyline points="740,89.8 746,95.7 750,105.7 746,113.7 748,123.6" stroke="#2d765f" stroke-width="5.800000000000001"/>
<polyline points="740,89.8 746,95.7 750,105.7 746,113.7 748,123.6" stroke="#58b596" stroke-width="3.8000000000000003"/>
<polyline points="740,89.8 746,95.7 750,105.7 746,113.7 748,123.6" stroke="#a6e4cc" stroke-width="1.1" stroke-opacity="0.75" transform="translate(-0.5,-0.6)"/>
<polyline points="750,105.7 757.9,101.7" stroke="#2d765f" stroke-width="5.800000000000001"/>
<polyline points="750,105.7 757.9,101.7" stroke="#58b596" stroke-width="3.8000000000000003"/>
<polyline points="750,105.7 757.9,101.7" stroke="#a6e4cc" stroke-width="1.1" stroke-opacity="0.75" transform="translate(-0.5,-0.6)"/>
<polyline points="755.9,121.6 767,122 779.8,122.6" stroke="#2d765f" stroke-width="5.800000000000001"/>
<polyline points="755.9,121.6 767,122 779.8,122.6" stroke="#58b596" stroke-width="3.8000000000000003"/>
<polyline points="755.9,121.6 767,122 779.8,122.6" stroke="#a6e4cc" stroke-width="1.1" stroke-opacity="0.75" transform="translate(-0.5,-0.6)"/>
<polyline points="759.9,87.8 769.9,79.8" stroke="#2d765f" stroke-width="5.800000000000001"/>
<polyline points="759.9,87.8 769.9,79.8" stroke="#58b596" stroke-width="3.8000000000000003"/>
<polyline points="759.9,87.8 769.9,79.8" stroke="#a6e4cc" stroke-width="1.1" stroke-opacity="0.75" transform="translate(-0.5,-0.6)"/>
<polyline points="771.9,89.8 775.9,99.7 777.8,109.7" stroke="#2d765f" stroke-width="5.800000000000001"/>
<polyline points="771.9,89.8 775.9,99.7 777.8,109.7" stroke="#58b596" stroke-width="3.8000000000000003"/>
<polyline points="771.9,89.8 775.9,99.7 777.8,109.7" stroke="#a6e4cc" stroke-width="1.1" stroke-opacity="0.75" transform="translate(-0.5,-0.6)"/>
<polyline points="809.8,112.6 813,117.4 814.6,122.2 821,123.7 825.8,120.6 829,123.7 830.6,128.5 827.4,133.3 825,138" stroke="#2d765f" stroke-width="5.800000000000001"/>
<polyline points="809.8,112.6 813,117.4 814.6,122.2 821,123.7 825.8,120.6 829,123.7 830.6,128.5 827.4,133.3 825,138" stroke="#58b596" stroke-width="3.8000000000000003"/>
<polyline points="809.8,112.6 813,117.4 814.6,122.2 821,123.7 825.8,120.6 829,123.7 830.6,128.5 827.4,133.3 825,138" stroke="#a6e4cc" stroke-width="1.1" stroke-opacity="0.75" transform="translate(-0.5,-0.6)"/>
<polyline points="782.7,130.1 793.9,127 808.2,122.2" stroke="#2d765f" stroke-width="5.800000000000001"/>
<polyline points="782.7,130.1 793.9,127 808.2,122.2" stroke="#58b596" stroke-width="3.8000000000000003"/>
<polyline points="782.7,130.1 793.9,127 808.2,122.2" stroke="#a6e4cc" stroke-width="1.1" stroke-opacity="0.75" transform="translate(-0.5,-0.6)"/>
<polyline points="784.3,128.5 792.3,130.1 801.9,128.5" stroke="#2d765f" stroke-width="5.800000000000001"/>
<polyline points="784.3,128.5 792.3,130.1 801.9,128.5" stroke="#58b596" stroke-width="3.8000000000000003"/>
<polyline points="784.3,128.5 792.3,130.1 801.9,128.5" stroke="#a6e4cc" stroke-width="1.1" stroke-opacity="0.75" transform="translate(-0.5,-0.6)"/>
<polyline points="814.6,127 819.4,131.7 824.2,134.9" stroke="#2d765f" stroke-width="5.800000000000001"/>
<polyline points="814.6,127 819.4,131.7 824.2,134.9" stroke="#58b596" stroke-width="3.8000000000000003"/>
<polyline points="814.6,127 819.4,131.7 824.2,134.9" stroke="#a6e4cc" stroke-width="1.1" stroke-opacity="0.75" transform="translate(-0.5,-0.6)"/>
<polyline points="793.9,138 803.5,138" stroke="#2d765f" stroke-width="5.800000000000001"/>
<polyline points="793.9,138 803.5,138" stroke="#58b596" stroke-width="3.8000000000000003"/>
<polyline points="793.9,138 803.5,138" stroke="#a6e4cc" stroke-width="1.1" stroke-opacity="0.75" transform="translate(-0.5,-0.6)"/>
<polyline points="735,100 738.2,106.4 743,109.6 749.4,108 755.8,104.8 760.6,101.6" stroke="#2d765f" stroke-width="5.800000000000001"/>
<polyline points="735,100 738.2,106.4 743,109.6 749.4,108 755.8,104.8 760.6,101.6" stroke="#58b596" stroke-width="3.8000000000000003"/>
<polyline points="735,100 738.2,106.4 743,109.6 749.4,108 755.8,104.8 760.6,101.6" stroke="#a6e4cc" stroke-width="1.1" stroke-opacity="0.75" transform="translate(-0.5,-0.6)"/>
<polyline points="738.2,106.4 737.5,114.3 731.9,119.1 723.9,119.9 717.5,119.1 715.1,123.9 713.5,130.3 717.5,135.1 719.1,138.2 715.9,141.4 709.6,140.6 706.4,143 704.8,151 706.4,155.8 712.7,159 715.9,163.7 720.7,168.5 725.5,173.3 723.9,179.7" stroke="#2d765f" stroke-width="5.800000000000001"/>
<polyline points="738.2,106.4 737.5,114.3 731.9,119.1 723.9,119.9 717.5,119.1 715.1,123.9 713.5,130.3 717.5,135.1 719.1,138.2 715.9,141.4 709.6,140.6 706.4,143 704.8,151 706.4,155.8 712.7,159 715.9,163.7 720.7,168.5 725.5,173.3 723.9,179.7" stroke="#58b596" stroke-width="3.8000000000000003"/>
<polyline points="738.2,106.4 737.5,114.3 731.9,119.1 723.9,119.9 717.5,119.1 715.1,123.9 713.5,130.3 717.5,135.1 719.1,138.2 715.9,141.4 709.6,140.6 706.4,143 704.8,151 706.4,155.8 712.7,159 715.9,163.7 720.7,168.5 725.5,173.3 723.9,179.7" stroke="#a6e4cc" stroke-width="1.1" stroke-opacity="0.75" transform="translate(-0.5,-0.6)"/>
<polyline points="743,109.6 747.8,114.3 749.4,120.7 747.8,123.9 739.8,125.5" stroke="#2d765f" stroke-width="5.800000000000001"/>
<polyline points="743,109.6 747.8,114.3 749.4,120.7 747.8,123.9 739.8,125.5" stroke="#58b596" stroke-width="3.8000000000000003"/>
<polyline points="743,109.6 747.8,114.3 749.4,120.7 747.8,123.9 739.8,125.5" stroke="#a6e4cc" stroke-width="1.1" stroke-opacity="0.75" transform="translate(-0.5,-0.6)"/>
<polyline points="749.4,123.9 763.7,123.9 779.7,122.3" stroke="#2d765f" stroke-width="5.800000000000001"/>
<polyline points="749.4,123.9 763.7,123.9 779.7,122.3" stroke="#58b596" stroke-width="3.8000000000000003"/>
<polyline points="749.4,123.9 763.7,123.9 779.7,122.3" stroke="#a6e4cc" stroke-width="1.1" stroke-opacity="0.75" transform="translate(-0.5,-0.6)"/>
<polyline points="752.6,125.5 765,125.8 779,124.5" stroke="#2d765f" stroke-width="5.800000000000001"/>
<polyline points="752.6,125.5 765,125.8 779,124.5" stroke="#58b596" stroke-width="3.8000000000000003"/>
<polyline points="752.6,125.5 765,125.8 779,124.5" stroke="#a6e4cc" stroke-width="1.1" stroke-opacity="0.75" transform="translate(-0.5,-0.6)"/>
<polyline points="719.1,138.2 725.5,139.8 728.7,143 729.5,147.8 730.3,151 720.7,152.6" stroke="#2d765f" stroke-width="5.800000000000001"/>
<polyline points="719.1,138.2 725.5,139.8 728.7,143 729.5,147.8 730.3,151 720.7,152.6" stroke="#58b596" stroke-width="3.8000000000000003"/>
<polyline points="719.1,138.2 725.5,139.8 728.7,143 729.5,147.8 730.3,151 720.7,152.6" stroke="#a6e4cc" stroke-width="1.1" stroke-opacity="0.75" transform="translate(-0.5,-0.6)"/>
<polyline points="730.3,147.8 747.8,147 762.2,147" stroke="#2d765f" stroke-width="5.800000000000001"/>
<polyline points="730.3,147.8 747.8,147 762.2,147" stroke="#58b596" stroke-width="3.8000000000000003"/>
<polyline points="730.3,147.8 747.8,147 762.2,147" stroke="#a6e4cc" stroke-width="1.1" stroke-opacity="0.75" transform="translate(-0.5,-0.6)"/>
<polyline points="776.5,147.8 779.7,146.2" stroke="#2d765f" stroke-width="5.800000000000001"/>
<polyline points="776.5,147.8 779.7,146.2" stroke="#58b596" stroke-width="3.8000000000000003"/>
<polyline points="776.5,147.8 779.7,146.2" stroke="#a6e4cc" stroke-width="1.1" stroke-opacity="0.75" transform="translate(-0.5,-0.6)"/>
<polyline points="712.7,159 709.6,163.7 708,167" stroke="#2d765f" stroke-width="5.800000000000001"/>
<polyline points="712.7,159 709.6,163.7 708,167" stroke="#58b596" stroke-width="3.8000000000000003"/>
<polyline points="712.7,159 709.6,163.7 708,167" stroke="#a6e4cc" stroke-width="1.1" stroke-opacity="0.75" transform="translate(-0.5,-0.6)"/>
<polyline points="727.1,167 739.8,163.7 755.8,163" stroke="#2d765f" stroke-width="5.800000000000001"/>
<polyline points="727.1,167 739.8,163.7 755.8,163" stroke="#58b596" stroke-width="3.8000000000000003"/>
<polyline points="727.1,167 739.8,163.7 755.8,163" stroke="#a6e4cc" stroke-width="1.1" stroke-opacity="0.75" transform="translate(-0.5,-0.6)"/>
<polyline points="728.7,171.7 744.6,168.5 763.7,167.7 779.7,167" stroke="#2d765f" stroke-width="5.800000000000001"/>
<polyline points="728.7,171.7 744.6,168.5 763.7,167.7 779.7,167" stroke="#58b596" stroke-width="3.8000000000000003"/>
<polyline points="728.7,171.7 744.6,168.5 763.7,167.7 779.7,167" stroke="#a6e4cc" stroke-width="1.1" stroke-opacity="0.75" transform="translate(-0.5,-0.6)"/>
<polyline points="731.9,175 747.8,172.5 767,171.7" stroke="#2d765f" stroke-width="5.800000000000001"/>
<polyline points="731.9,175 747.8,172.5 767,171.7" stroke="#58b596" stroke-width="3.8000000000000003"/>
<polyline points="731.9,175 747.8,172.5 767,171.7" stroke="#a6e4cc" stroke-width="1.1" stroke-opacity="0.75" transform="translate(-0.5,-0.6)"/>
<polyline points="747.8,176.5 767,175 774.9,170.1 776.5,179.7" stroke="#2d765f" stroke-width="5.800000000000001"/>
<polyline points="747.8,176.5 767,175 774.9,170.1 776.5,179.7" stroke="#58b596" stroke-width="3.8000000000000003"/>
<polyline points="747.8,176.5 767,175 774.9,170.1 776.5,179.7" stroke="#a6e4cc" stroke-width="1.1" stroke-opacity="0.75" transform="translate(-0.5,-0.6)"/>
<polyline points="781.2,130 798.7,130.8" stroke="#2d765f" stroke-width="5.800000000000001"/>
<polyline points="781.2,130 798.7,130.8" stroke="#58b596" stroke-width="3.8000000000000003"/>
<polyline points="781.2,130 798.7,130.8" stroke="#a6e4cc" stroke-width="1.1" stroke-opacity="0.75" transform="translate(-0.5,-0.6)"/>
<polyline points="817.8,131 824,133 830.6,136.4" stroke="#2d765f" stroke-width="5.800000000000001"/>
<polyline points="817.8,131 824,133 830.6,136.4" stroke="#58b596" stroke-width="3.8000000000000003"/>
<polyline points="817.8,131 824,133 830.6,136.4" stroke="#a6e4cc" stroke-width="1.1" stroke-opacity="0.75" transform="translate(-0.5,-0.6)"/>
<polyline points="776.4,145.9 790.7,145.1 801.9,138.8" stroke="#2d765f" stroke-width="5.800000000000001"/>
<polyline points="776.4,145.9 790.7,145.1 801.9,138.8" stroke="#58b596" stroke-width="3.8000000000000003"/>
<polyline points="776.4,145.9 790.7,145.1 801.9,138.8" stroke="#a6e4cc" stroke-width="1.1" stroke-opacity="0.75" transform="translate(-0.5,-0.6)"/>
<polyline points="779.6,148.3 790.7,147.5" stroke="#2d765f" stroke-width="5.800000000000001"/>
<polyline points="779.6,148.3 790.7,147.5" stroke="#58b596" stroke-width="3.8000000000000003"/>
<polyline points="779.6,148.3 790.7,147.5" stroke="#a6e4cc" stroke-width="1.1" stroke-opacity="0.75" transform="translate(-0.5,-0.6)"/>
<polyline points="792.3,142.7 793.9,150.7 801.9,153.9 806.7,145.9 816.2,145.1 816.2,150.7 824.2,150.7 825.8,142.7 825.8,136.4 822.6,131.6" stroke="#2d765f" stroke-width="5.800000000000001"/>
<polyline points="792.3,142.7 793.9,150.7 801.9,153.9 806.7,145.9 816.2,145.1 816.2,150.7 824.2,150.7 825.8,142.7 825.8,136.4 822.6,131.6" stroke="#58b596" stroke-width="3.8000000000000003"/>
<polyline points="792.3,142.7 793.9,150.7 801.9,153.9 806.7,145.9 816.2,145.1 816.2,150.7 824.2,150.7 825.8,142.7 825.8,136.4 822.6,131.6" stroke="#a6e4cc" stroke-width="1.1" stroke-opacity="0.75" transform="translate(-0.5,-0.6)"/>
<polyline points="801.9,153.9 805,160.3 804.3,169.8 797.1,171.4 789.1,167.5 782.7,168.2 776.4,171.4 770,168.2" stroke="#2d765f" stroke-width="5.800000000000001"/>
<polyline points="801.9,153.9 805,160.3 804.3,169.8 797.1,171.4 789.1,167.5 782.7,168.2 776.4,171.4 770,168.2" stroke="#58b596" stroke-width="3.8000000000000003"/>
<polyline points="801.9,153.9 805,160.3 804.3,169.8 797.1,171.4 789.1,167.5 782.7,168.2 776.4,171.4 770,168.2" stroke="#a6e4cc" stroke-width="1.1" stroke-opacity="0.75" transform="translate(-0.5,-0.6)"/>
<polyline points="776.4,171.4 778,177.8 779.6,182.6 784.3,184.2 785.9,193.7 787.5,200.1 793.9,204.9 801.9,201.7 809.8,198.5 813,204.9 814.6,209.7" stroke="#2d765f" stroke-width="5.800000000000001"/>
<polyline points="776.4,171.4 778,177.8 779.6,182.6 784.3,184.2 785.9,193.7 787.5,200.1 793.9,204.9 801.9,201.7 809.8,198.5 813,204.9 814.6,209.7" stroke="#58b596" stroke-width="3.8000000000000003"/>
<polyline points="776.4,171.4 778,177.8 779.6,182.6 784.3,184.2 785.9,193.7 787.5,200.1 793.9,204.9 801.9,201.7 809.8,198.5 813,204.9 814.6,209.7" stroke="#a6e4cc" stroke-width="1.1" stroke-opacity="0.75" transform="translate(-0.5,-0.6)"/>
<polyline points="770,182.6 773.2,190.6 771.6,200.1 776.4,204.9 779.6,209.7" stroke="#2d765f" stroke-width="5.800000000000001"/>
<polyline points="770,182.6 773.2,190.6 771.6,200.1 776.4,204.9 779.6,209.7" stroke="#58b596" stroke-width="3.8000000000000003"/>
<polyline points="770,182.6 773.2,190.6 771.6,200.1 776.4,204.9 779.6,209.7" stroke="#a6e4cc" stroke-width="1.1" stroke-opacity="0.75" transform="translate(-0.5,-0.6)"/>
<polyline points="770,176.2 776.4,177.8" stroke="#2d765f" stroke-width="5.800000000000001"/>
<polyline points="770,176.2 776.4,177.8" stroke="#58b596" stroke-width="3.8000000000000003"/>
<polyline points="770,176.2 776.4,177.8" stroke="#a6e4cc" stroke-width="1.1" stroke-opacity="0.75" transform="translate(-0.5,-0.6)"/>
<polyline points="709.6,160 711.2,166.4 708,168" stroke="#2d765f" stroke-width="5.800000000000001"/>
<polyline points="709.6,160 711.2,166.4 708,168" stroke="#58b596" stroke-width="3.8000000000000003"/>
<polyline points="709.6,160 711.2,166.4 708,168" stroke="#a6e4cc" stroke-width="1.1" stroke-opacity="0.75" transform="translate(-0.5,-0.6)"/>
<polyline points="715.9,163.2 717.5,169.6 715.9,174.3 722.3,174.3 731.9,169.6 743,166.4 754.2,163.2" stroke="#2d765f" stroke-width="5.800000000000001"/>
<polyline points="715.9,163.2 717.5,169.6 715.9,174.3 722.3,174.3 731.9,169.6 743,166.4 754.2,163.2" stroke="#58b596" stroke-width="3.8000000000000003"/>
<polyline points="715.9,163.2 717.5,169.6 715.9,174.3 722.3,174.3 731.9,169.6 743,166.4 754.2,163.2" stroke="#a6e4cc" stroke-width="1.1" stroke-opacity="0.75" transform="translate(-0.5,-0.6)"/>
<polyline points="722.3,169.6 736.7,166.4 747.8,164 754.2,162.4" stroke="#2d765f" stroke-width="5.800000000000001"/>
<polyline points="722.3,169.6 736.7,166.4 747.8,164 754.2,162.4" stroke="#58b596" stroke-width="3.8000000000000003"/>
<polyline points="722.3,169.6 736.7,166.4 747.8,164 754.2,162.4" stroke="#a6e4cc" stroke-width="1.1" stroke-opacity="0.75" transform="translate(-0.5,-0.6)"/>
<polyline points="720.7,175.9 719.1,182.3 723.9,187.1 730.3,191.9 731.9,195" stroke="#2d765f" stroke-width="5.800000000000001"/>
<polyline points="720.7,175.9 719.1,182.3 723.9,187.1 730.3,191.9 731.9,195" stroke="#58b596" stroke-width="3.8000000000000003"/>
<polyline points="720.7,175.9 719.1,182.3 723.9,187.1 730.3,191.9 731.9,195" stroke="#a6e4cc" stroke-width="1.1" stroke-opacity="0.75" transform="translate(-0.5,-0.6)"/>
<polyline points="727.1,177.5 736.7,174.3 746.2,172.7 759,169.6 773.3,168 779.7,166.4" stroke="#2d765f" stroke-width="5.800000000000001"/>
<polyline points="727.1,177.5 736.7,174.3 746.2,172.7 759,169.6 773.3,168 779.7,166.4" stroke="#58b596" stroke-width="3.8000000000000003"/>
<polyline points="727.1,177.5 736.7,174.3 746.2,172.7 759,169.6 773.3,168 779.7,166.4" stroke="#a6e4cc" stroke-width="1.1" stroke-opacity="0.75" transform="translate(-0.5,-0.6)"/>
<polyline points="744.6,171.2 756,168.8 768.5,167.2" stroke="#2d765f" stroke-width="5.800000000000001"/>
<polyline points="744.6,171.2 756,168.8 768.5,167.2" stroke="#58b596" stroke-width="3.8000000000000003"/>
<polyline points="744.6,171.2 756,168.8 768.5,167.2" stroke="#a6e4cc" stroke-width="1.1" stroke-opacity="0.75" transform="translate(-0.5,-0.6)"/>
<polyline points="728.7,190.3 739.8,188.7 752.6,187.1 757.4,185.5" stroke="#2d765f" stroke-width="5.800000000000001"/>
<polyline points="728.7,190.3 739.8,188.7 752.6,187.1 757.4,185.5" stroke="#58b596" stroke-width="3.8000000000000003"/>
<polyline points="728.7,190.3 739.8,188.7 752.6,187.1 757.4,185.5" stroke="#a6e4cc" stroke-width="1.1" stroke-opacity="0.75" transform="translate(-0.5,-0.6)"/>
<polyline points="731.9,194.3 744.6,191.9 755.8,189.5" stroke="#2d765f" stroke-width="5.800000000000001"/>
<polyline points="731.9,194.3 744.6,191.9 755.8,189.5" stroke="#58b596" stroke-width="3.8000000000000003"/>
<polyline points="731.9,194.3 744.6,191.9 755.8,189.5" stroke="#a6e4cc" stroke-width="1.1" stroke-opacity="0.75" transform="translate(-0.5,-0.6)"/>
<polyline points="746.2,174.3 749.4,182.3 752.6,187.1 757.4,186.3 765.3,183.9 770.1,182.3 771.7,187.1 773.3,195.1 774.9,201.4 778,206.2" stroke="#2d765f" stroke-width="5.800000000000001"/>
<polyline points="746.2,174.3 749.4,182.3 752.6,187.1 757.4,186.3 765.3,183.9 770.1,182.3 771.7,187.1 773.3,195.1 774.9,201.4 778,206.2" stroke="#58b596" stroke-width="3.8000000000000003"/>
<polyline points="746.2,174.3 749.4,182.3 752.6,187.1 757.4,186.3 765.3,183.9 770.1,182.3 771.7,187.1 773.3,195.1 774.9,201.4 778,206.2" stroke="#a6e4cc" stroke-width="1.1" stroke-opacity="0.75" transform="translate(-0.5,-0.6)"/>
<polyline points="747.8,191.9 752.6,198.2 751,204.6 754.2,207 763.7,204.6 766.9,199.8" stroke="#2d765f" stroke-width="5.800000000000001"/>
<polyline points="747.8,191.9 752.6,198.2 751,204.6 754.2,207 763.7,204.6 766.9,199.8" stroke="#58b596" stroke-width="3.8000000000000003"/>
<polyline points="747.8,191.9 752.6,198.2 751,204.6 754.2,207 763.7,204.6 766.9,199.8" stroke="#a6e4cc" stroke-width="1.1" stroke-opacity="0.75" transform="translate(-0.5,-0.6)"/>
<polyline points="754.2,201.4 763.7,202.2" stroke="#2d765f" stroke-width="5.800000000000001"/>
<polyline points="754.2,201.4 763.7,202.2" stroke="#58b596" stroke-width="3.8000000000000003"/>
<polyline points="754.2,201.4 763.7,202.2" stroke="#a6e4cc" stroke-width="1.1" stroke-opacity="0.75" transform="translate(-0.5,-0.6)"/>
<polyline points="770.1,174.3 774.9,182.3" stroke="#2d765f" stroke-width="5.800000000000001"/>
<polyline points="770.1,174.3 774.9,182.3" stroke="#58b596" stroke-width="3.8000000000000003"/>
<polyline points="770.1,174.3 774.9,182.3" stroke="#a6e4cc" stroke-width="1.1" stroke-opacity="0.75" transform="translate(-0.5,-0.6)"/>
<polyline points="773.2,190 774.8,199.6 779.6,202.7 785.9,199.6 785.9,190" stroke="#2d765f" stroke-width="5.800000000000001"/>
<polyline points="773.2,190 774.8,199.6 779.6,202.7 785.9,199.6 785.9,190" stroke="#58b596" stroke-width="3.8000000000000003"/>
<polyline points="773.2,190 774.8,199.6 779.6,202.7 785.9,199.6 785.9,190" stroke="#a6e4cc" stroke-width="1.1" stroke-opacity="0.75" transform="translate(-0.5,-0.6)"/>
<polyline points="785.9,199.6 790.7,204.3 795.5,205.1 801.9,201.2 808.2,198 811.4,201.2 814.6,207.5 813,213.9 808.2,218.7 805.1,223.5 808.2,228.2 814.6,231.4 816,232" stroke="#2d765f" stroke-width="5.800000000000001"/>
<polyline points="785.9,199.6 790.7,204.3 795.5,205.1 801.9,201.2 808.2,198 811.4,201.2 814.6,207.5 813,213.9 808.2,218.7 805.1,223.5 808.2,228.2 814.6,231.4 816,232" stroke="#58b596" stroke-width="3.8000000000000003"/>
<polyline points="785.9,199.6 790.7,204.3 795.5,205.1 801.9,201.2 808.2,198 811.4,201.2 814.6,207.5 813,213.9 808.2,218.7 805.1,223.5 808.2,228.2 814.6,231.4 816,232" stroke="#a6e4cc" stroke-width="1.1" stroke-opacity="0.75" transform="translate(-0.5,-0.6)"/>
<polyline points="813,213.9 817.8,218.7 822.6,218.7 825.8,221.9 829,228.2 824.2,236.2 817.8,239.4 819.4,247.4 822.6,250.6 821,256.9 817.8,260.1 813,261.7 811.4,264.9" stroke="#2d765f" stroke-width="5.800000000000001"/>
<polyline points="813,213.9 817.8,218.7 822.6,218.7 825.8,221.9 829,228.2 824.2,236.2 817.8,239.4 819.4,247.4 822.6,250.6 821,256.9 817.8,260.1 813,261.7 811.4,264.9" stroke="#58b596" stroke-width="3.8000000000000003"/>
<polyline points="813,213.9 817.8,218.7 822.6,218.7 825.8,221.9 829,228.2 824.2,236.2 817.8,239.4 819.4,247.4 822.6,250.6 821,256.9 817.8,260.1 813,261.7 811.4,264.9" stroke="#a6e4cc" stroke-width="1.1" stroke-opacity="0.75" transform="translate(-0.5,-0.6)"/>
<polyline points="824.2,236.2 827.4,241 829,244.2" stroke="#2d765f" stroke-width="5.800000000000001"/>
<polyline points="824.2,236.2 827.4,241 829,244.2" stroke="#58b596" stroke-width="3.8000000000000003"/>
<polyline points="824.2,236.2 827.4,241 829,244.2" stroke="#a6e4cc" stroke-width="1.1" stroke-opacity="0.75" transform="translate(-0.5,-0.6)"/>
<polyline points="779.6,205.9 779.6,213.9 782.7,217.1 790.7,213.9" stroke="#2d765f" stroke-width="5.800000000000001"/>
<polyline points="779.6,205.9 779.6,213.9 782.7,217.1 790.7,213.9" stroke="#58b596" stroke-width="3.8000000000000003"/>
<polyline points="779.6,205.9 779.6,213.9 782.7,217.1 790.7,213.9" stroke="#a6e4cc" stroke-width="1.1" stroke-opacity="0.75" transform="translate(-0.5,-0.6)"/>
<polyline points="784.3,239.4 793.9,236.2 805.1,231.4 808.2,229.8" stroke="#2d765f" stroke-width="5.800000000000001"/>
<polyline points="784.3,239.4 793.9,236.2 805.1,231.4 808.2,229.8" stroke="#58b596" stroke-width="3.8000000000000003"/>
<polyline points="784.3,239.4 793.9,236.2 805.1,231.4 808.2,229.8" stroke="#a6e4cc" stroke-width="1.1" stroke-opacity="0.75" transform="translate(-0.5,-0.6)"/>
<polyline points="785.9,241 798.7,237.8" stroke="#2d765f" stroke-width="5.800000000000001"/>
<polyline points="785.9,241 798.7,237.8" stroke="#58b596" stroke-width="3.8000000000000003"/>
<polyline points="785.9,241 798.7,237.8" stroke="#a6e4cc" stroke-width="1.1" stroke-opacity="0.75" transform="translate(-0.5,-0.6)"/>
<polyline points="770,217.1 776.4,221.9 779.6,229.8 779.6,237.8 781.2,244.2 778,247.4" stroke="#2d765f" stroke-width="5.800000000000001"/>
<polyline points="770,217.1 776.4,221.9 779.6,229.8 779.6,237.8 781.2,244.2 778,247.4" stroke="#58b596" stroke-width="3.8000000000000003"/>
<polyline points="770,217.1 776.4,221.9 779.6,229.8 779.6,237.8 781.2,244.2 778,247.4" stroke="#a6e4cc" stroke-width="1.1" stroke-opacity="0.75" transform="translate(-0.5,-0.6)"/>
<polyline points="789.1,260.1 797.1,255.3 806.7,252.2 816.2,250.6 824.2,253" stroke="#2d765f" stroke-width="5.800000000000001"/>
<polyline points="789.1,260.1 797.1,255.3 806.7,252.2 816.2,250.6 824.2,253" stroke="#58b596" stroke-width="3.8000000000000003"/>
<polyline points="789.1,260.1 797.1,255.3 806.7,252.2 816.2,250.6 824.2,253" stroke="#a6e4cc" stroke-width="1.1" stroke-opacity="0.75" transform="translate(-0.5,-0.6)"/>
<polyline points="790.7,263.3 801.9,261.7 811.4,260.1" stroke="#2d765f" stroke-width="5.800000000000001"/>
<polyline points="790.7,263.3 801.9,261.7 811.4,260.1" stroke="#58b596" stroke-width="3.8000000000000003"/>
<polyline points="790.7,263.3 801.9,261.7 811.4,260.1" stroke="#a6e4cc" stroke-width="1.1" stroke-opacity="0.75" transform="translate(-0.5,-0.6)"/>
<polyline points="797.1,255.3 795.5,261.7 798.7,269.7" stroke="#2d765f" stroke-width="5.800000000000001"/>
<polyline points="797.1,255.3 795.5,261.7 798.7,269.7" stroke="#58b596" stroke-width="3.8000000000000003"/>
<polyline points="797.1,255.3 795.5,261.7 798.7,269.7" stroke="#a6e4cc" stroke-width="1.1" stroke-opacity="0.75" transform="translate(-0.5,-0.6)"/>
<polyline points="806.7,252.2 808.2,260.1 809.8,268.1" stroke="#2d765f" stroke-width="5.800000000000001"/>
<polyline points="806.7,252.2 808.2,260.1 809.8,268.1" stroke="#58b596" stroke-width="3.8000000000000003"/>
<polyline points="806.7,252.2 808.2,260.1 809.8,268.1" stroke="#a6e4cc" stroke-width="1.1" stroke-opacity="0.75" transform="translate(-0.5,-0.6)"/>
<polyline points="749.6,240 752.7,249.6 757.5,255.9 763.9,257.5 770.3,254.3 775.1,249.6 776.7,243.2" stroke="#2d765f" stroke-width="5.800000000000001"/>
<polyline points="749.6,240 752.7,249.6 757.5,255.9 763.9,257.5 770.3,254.3 775.1,249.6 776.7,243.2" stroke="#58b596" stroke-width="3.8000000000000003"/>
<polyline points="749.6,240 752.7,249.6 757.5,255.9 763.9,257.5 770.3,254.3 775.1,249.6 776.7,243.2" stroke="#a6e4cc" stroke-width="1.1" stroke-opacity="0.75" transform="translate(-0.5,-0.6)"/>
<polyline points="757.5,240 760.7,248 768.7,249.6" stroke="#2d765f" stroke-width="5.800000000000001"/>
<polyline points="757.5,240 760.7,248 768.7,249.6" stroke="#58b596" stroke-width="3.8000000000000003"/>
<polyline points="757.5,240 760.7,248 768.7,249.6" stroke="#a6e4cc" stroke-width="1.1" stroke-opacity="0.75" transform="translate(-0.5,-0.6)"/>
<polyline points="771.9,243.2 775,240" stroke="#2d765f" stroke-width="5.800000000000001"/>
<polyline points="771.9,243.2 775,240" stroke="#58b596" stroke-width="3.8000000000000003"/>
<polyline points="771.9,243.2 775,240" stroke="#a6e4cc" stroke-width="1.1" stroke-opacity="0.75" transform="translate(-0.5,-0.6)"/>
<polyline points="763.9,257.5 763.9,267.1 763.9,276.7 768.7,278.2 778.2,278.2 786.2,279.8 791,281.4 794.2,276.7 797.4,270.3 799,263.9 797.4,257.5 799,252.7 806.9,251.2 813.3,252.7 819.7,251.2" stroke="#2d765f" stroke-width="5.800000000000001"/>
<polyline points="763.9,257.5 763.9,267.1 763.9,276.7 768.7,278.2 778.2,278.2 786.2,279.8 791,281.4 794.2,276.7 797.4,270.3 799,263.9 797.4,257.5 799,252.7 806.9,251.2 813.3,252.7 819.7,251.2" stroke="#58b596" stroke-width="3.8000000000000003"/>
<polyline points="763.9,257.5 763.9,267.1 763.9,276.7 768.7,278.2 778.2,278.2 786.2,279.8 791,281.4 794.2,276.7 797.4,270.3 799,263.9 797.4,257.5 799,252.7 806.9,251.2 813.3,252.7 819.7,251.2" stroke="#a6e4cc" stroke-width="1.1" stroke-opacity="0.75" transform="translate(-0.5,-0.6)"/>
<polyline points="787.8,260.7 795.8,257.5" stroke="#2d765f" stroke-width="5.800000000000001"/>
<polyline points="787.8,260.7 795.8,257.5" stroke="#58b596" stroke-width="3.8000000000000003"/>
<polyline points="787.8,260.7 795.8,257.5" stroke="#a6e4cc" stroke-width="1.1" stroke-opacity="0.75" transform="translate(-0.5,-0.6)"/>
<polyline points="789.4,273.5 799,271.9 808.5,270.3 814.9,268.7" stroke="#2d765f" stroke-width="5.800000000000001"/>
<polyline points="789.4,273.5 799,271.9 808.5,270.3 814.9,268.7" stroke="#58b596" stroke-width="3.8000000000000003"/>
<polyline points="789.4,273.5 799,271.9 808.5,270.3 814.9,268.7" stroke="#a6e4cc" stroke-width="1.1" stroke-opacity="0.75" transform="translate(-0.5,-0.6)"/>
<polyline points="792.6,278.2 800.6,276.7 810.1,273.5" stroke="#2d765f" stroke-width="5.800000000000001"/>
<polyline points="792.6,278.2 800.6,276.7 810.1,273.5" stroke="#58b596" stroke-width="3.8000000000000003"/>
<polyline points="792.6,278.2 800.6,276.7 810.1,273.5" stroke="#a6e4cc" stroke-width="1.1" stroke-opacity="0.75" transform="translate(-0.5,-0.6)"/>
<polyline points="806.9,259.1 813.3,263.9 816.5,260.7" stroke="#2d765f" stroke-width="5.800000000000001"/>
<polyline points="806.9,259.1 813.3,263.9 816.5,260.7" stroke="#58b596" stroke-width="3.8000000000000003"/>
<polyline points="806.9,259.1 813.3,263.9 816.5,260.7" stroke="#a6e4cc" stroke-width="1.1" stroke-opacity="0.75" transform="translate(-0.5,-0.6)"/>
<polyline points="810.1,255.9 818.1,257.5" stroke="#2d765f" stroke-width="5.800000000000001"/>
<polyline points="810.1,255.9 818.1,257.5" stroke="#58b596" stroke-width="3.8000000000000003"/>
<polyline points="810.1,255.9 818.1,257.5" stroke="#a6e4cc" stroke-width="1.1" stroke-opacity="0.75" transform="translate(-0.5,-0.6)"/>
<polyline points="792.6,281.4 797.4,284.6 794.2,289.4 787.8,291" stroke="#2d765f" stroke-width="5.800000000000001"/>
<polyline points="792.6,281.4 797.4,284.6 794.2,289.4 787.8,291" stroke="#58b596" stroke-width="3.8000000000000003"/>
<polyline points="792.6,281.4 797.4,284.6 794.2,289.4 787.8,291" stroke="#a6e4cc" stroke-width="1.1" stroke-opacity="0.75" transform="translate(-0.5,-0.6)"/>
<polyline points="776.7,292.6 787.8,291 800.6,291.8 808.5,293.4" stroke="#2d765f" stroke-width="5.800000000000001"/>
<polyline points="776.7,292.6 787.8,291 800.6,291.8 808.5,293.4" stroke="#58b596" stroke-width="3.8000000000000003"/>
<polyline points="776.7,292.6 787.8,291 800.6,291.8 808.5,293.4" stroke="#a6e4cc" stroke-width="1.1" stroke-opacity="0.75" transform="translate(-0.5,-0.6)"/>
<polyline points="778.2,295.8 792.6,295 806.9,295" stroke="#2d765f" stroke-width="5.800000000000001"/>
<polyline points="778.2,295.8 792.6,295 806.9,295" stroke="#58b596" stroke-width="3.8000000000000003"/>
<polyline points="778.2,295.8 792.6,295 806.9,295" stroke="#a6e4cc" stroke-width="1.1" stroke-opacity="0.75" transform="translate(-0.5,-0.6)"/>
<polyline points="784.6,297.4 800.6,297.4" stroke="#2d765f" stroke-width="5.800000000000001"/>
<polyline points="784.6,297.4 800.6,297.4" stroke="#58b596" stroke-width="3.8000000000000003"/>
<polyline points="784.6,297.4 800.6,297.4" stroke="#a6e4cc" stroke-width="1.1" stroke-opacity="0.75" transform="translate(-0.5,-0.6)"/>
<polyline points="800.6,284.6 802.2,281.4" stroke="#2d765f" stroke-width="5.800000000000001"/>
<polyline points="800.6,284.6 802.2,281.4" stroke="#58b596" stroke-width="3.8000000000000003"/>
<polyline points="800.6,284.6 802.2,281.4" stroke="#a6e4cc" stroke-width="1.1" stroke-opacity="0.75" transform="translate(-0.5,-0.6)"/>
<polyline points="800,270 814.3,271.6" stroke="#2d765f" stroke-width="5.800000000000001"/>
<polyline points="800,270 814.3,271.6" stroke="#58b596" stroke-width="3.8000000000000003"/>
<polyline points="800,270 814.3,271.6" stroke="#a6e4cc" stroke-width="1.1" stroke-opacity="0.75" transform="translate(-0.5,-0.6)"/>
<polyline points="800,273.2 809.6,274.8" stroke="#2d765f" stroke-width="5.800000000000001"/>
<polyline points="800,273.2 809.6,274.8" stroke="#58b596" stroke-width="3.8000000000000003"/>
<polyline points="800,273.2 809.6,274.8" stroke="#a6e4cc" stroke-width="1.1" stroke-opacity="0.75" transform="translate(-0.5,-0.6)"/>
<polyline points="800,293.9 808,293.9" stroke="#2d765f" stroke-width="5.800000000000001"/>
<polyline points="800,293.9 808,293.9" stroke="#58b596" stroke-width="3.8000000000000003"/>
<polyline points="800,293.9 808,293.9" stroke="#a6e4cc" stroke-width="1.1" stroke-opacity="0.75" transform="translate(-0.5,-0.6)"/>
<polyline points="800,282.7 802.4,284.3" stroke="#2d765f" stroke-width="5.800000000000001"/>
<polyline points="800,282.7 802.4,284.3" stroke="#58b596" stroke-width="3.8000000000000003"/>
<polyline points="800,282.7 802.4,284.3" stroke="#a6e4cc" stroke-width="1.1" stroke-opacity="0.75" transform="translate(-0.5,-0.6)"/>
<polyline points="725.5,84.6 743,67.9" stroke="#2d765f" stroke-width="5.800000000000001"/>
<polyline points="725.5,84.6 743,67.9" stroke="#58b596" stroke-width="3.8000000000000003"/>
<polyline points="725.5,84.6 743,67.9" stroke="#a6e4cc" stroke-width="1.1" stroke-opacity="0.75" transform="translate(-0.5,-0.6)"/>
<polyline points="728.5,81.5 743.5,70.5" stroke="#2d765f" stroke-width="5.800000000000001"/>
<polyline points="728.5,81.5 743.5,70.5" stroke="#58b596" stroke-width="3.8000000000000003"/>
<polyline points="728.5,81.5 743.5,70.5" stroke="#a6e4cc" stroke-width="1.1" stroke-opacity="0.75" transform="translate(-0.5,-0.6)"/>
<polyline points="738.2,83 742.2,87.8" stroke="#2d765f" stroke-width="5.800000000000001"/>
<polyline points="738.2,83 742.2,87.8" stroke="#58b596" stroke-width="3.8000000000000003"/>
<polyline points="738.2,83 742.2,87.8" stroke="#a6e4cc" stroke-width="1.1" stroke-opacity="0.75" transform="translate(-0.5,-0.6)"/>
<polyline points="720.7,99 727,92.6 738.2,91.8 749.4,91 763.7,89.4 765.3,79.8 763.7,67.1 767,63.9" stroke="#2d765f" stroke-width="5.800000000000001"/>
<polyline points="720.7,99 727,92.6 738.2,91.8 749.4,91 763.7,89.4 765.3,79.8 763.7,67.1 767,63.9" stroke="#58b596" stroke-width="3.8000000000000003"/>
<polyline points="720.7,99 727,92.6 738.2,91.8 749.4,91 763.7,89.4 765.3,79.8 763.7,67.1 767,63.9" stroke="#a6e4cc" stroke-width="1.1" stroke-opacity="0.75" transform="translate(-0.5,-0.6)"/>
<polyline points="738.2,91.8 736.7,103.7 741.4,108.5 747.8,110 755.8,103.7 760.6,100.6" stroke="#2d765f" stroke-width="5.800000000000001"/>
<polyline points="738.2,91.8 736.7,103.7 741.4,108.5 747.8,110 755.8,103.7 760.6,100.6" stroke="#58b596" stroke-width="3.8000000000000003"/>
<polyline points="738.2,91.8 736.7,103.7 741.4,108.5 747.8,110 755.8,103.7 760.6,100.6" stroke="#a6e4cc" stroke-width="1.1" stroke-opacity="0.75" transform="translate(-0.5,-0.6)"/>
<polyline points="736.7,103.7 728.7,113.3 720.7,116.5" stroke="#2d765f" stroke-width="5.800000000000001"/>
<polyline points="736.7,103.7 728.7,113.3 720.7,116.5" stroke="#58b596" stroke-width="3.8000000000000003"/>
<polyline points="736.7,103.7 728.7,113.3 720.7,116.5" stroke="#a6e4cc" stroke-width="1.1" stroke-opacity="0.75" transform="translate(-0.5,-0.6)"/>
<polyline points="740,110 736.7,119.7" stroke="#2d765f" stroke-width="5.800000000000001"/>
<polyline points="740,110 736.7,119.7" stroke="#58b596" stroke-width="3.8000000000000003"/>
<polyline points="740,110 736.7,119.7" stroke="#a6e4cc" stroke-width="1.1" stroke-opacity="0.75" transform="translate(-0.5,-0.6)"/>
<polyline points="755.8,54.3 771.7,44.8" stroke="#2d765f" stroke-width="5.800000000000001"/>
<polyline points="755.8,54.3 771.7,44.8" stroke="#58b596" stroke-width="3.8000000000000003"/>
<polyline points="755.8,54.3 771.7,44.8" stroke="#a6e4cc" stroke-width="1.1" stroke-opacity="0.75" transform="translate(-0.5,-0.6)"/>
<polyline points="759,57.5 776.5,49.6" stroke="#2d765f" stroke-width="5.800000000000001"/>
<polyline points="759,57.5 776.5,49.6" stroke="#58b596" stroke-width="3.8000000000000003"/>
<polyline points="759,57.5 776.5,49.6" stroke="#a6e4cc" stroke-width="1.1" stroke-opacity="0.75" transform="translate(-0.5,-0.6)"/>
<polyline points="758.7,228.5 768.5,221.5 775.4,218.7 781,221.5" stroke="#2d765f" stroke-width="5.800000000000001"/>
<polyline points="758.7,228.5 768.5,221.5 775.4,218.7 781,221.5" stroke="#58b596" stroke-width="3.8000000000000003"/>
<polyline points="758.7,228.5 768.5,221.5 775.4,218.7 781,221.5" stroke="#a6e4cc" stroke-width="1.1" stroke-opacity="0.75" transform="translate(-0.5,-0.6)"/>
<polyline points="762.9,232.7 772.7,225.7 779.6,222.9" stroke="#2d765f" stroke-width="5.800000000000001"/>
<polyline points="762.9,232.7 772.7,225.7 779.6,222.9" stroke="#58b596" stroke-width="3.8000000000000003"/>
<polyline points="762.9,232.7 772.7,225.7 779.6,222.9" stroke="#a6e4cc" stroke-width="1.1" stroke-opacity="0.75" transform="translate(-0.5,-0.6)"/>
<polyline points="765.7,235.4 776.8,229.9 781,231.3" stroke="#2d765f" stroke-width="5.800000000000001"/>
<polyline points="765.7,235.4 776.8,229.9 781,231.3" stroke="#58b596" stroke-width="3.8000000000000003"/>
<polyline points="765.7,235.4 776.8,229.9 781,231.3" stroke="#a6e4cc" stroke-width="1.1" stroke-opacity="0.75" transform="translate(-0.5,-0.6)"/>
<polyline points="769.9,220.1 772.7,231.3 775.4,241" stroke="#2d765f" stroke-width="5.800000000000001"/>
<polyline points="769.9,220.1 772.7,231.3 775.4,241" stroke="#58b596" stroke-width="3.8000000000000003"/>
<polyline points="769.9,220.1 772.7,231.3 775.4,241" stroke="#a6e4cc" stroke-width="1.1" stroke-opacity="0.75" transform="translate(-0.5,-0.6)"/>
<polyline points="775.4,222.9 778.2,234.1 781,243.8" stroke="#2d765f" stroke-width="5.800000000000001"/>
<polyline points="775.4,222.9 778.2,234.1 781,243.8" stroke="#58b596" stroke-width="3.8000000000000003"/>
<polyline points="775.4,222.9 778.2,234.1 781,243.8" stroke="#a6e4cc" stroke-width="1.1" stroke-opacity="0.75" transform="translate(-0.5,-0.6)"/>
<polyline points="750.3,229.9 751.7,239.6 754.5,248 758.7,253.6" stroke="#2d765f" stroke-width="5.800000000000001"/>
<polyline points="750.3,229.9 751.7,239.6 754.5,248 758.7,253.6" stroke="#58b596" stroke-width="3.8000000000000003"/>
<polyline points="750.3,229.9 751.7,239.6 754.5,248 758.7,253.6" stroke="#a6e4cc" stroke-width="1.1" stroke-opacity="0.75" transform="translate(-0.5,-0.6)"/>
<polyline points="754.5,228.5 757.3,238.2 760.1,246.6" stroke="#2d765f" stroke-width="5.800000000000001"/>
<polyline points="754.5,228.5 757.3,238.2 760.1,246.6" stroke="#58b596" stroke-width="3.8000000000000003"/>
<polyline points="754.5,228.5 757.3,238.2 760.1,246.6" stroke="#a6e4cc" stroke-width="1.1" stroke-opacity="0.75" transform="translate(-0.5,-0.6)"/>
<polyline points="749,232.7 750.3,243.8 753.1,252.2" stroke="#2d765f" stroke-width="5.800000000000001"/>
<polyline points="749,232.7 750.3,243.8 753.1,252.2" stroke="#58b596" stroke-width="3.8000000000000003"/>
<polyline points="749,232.7 750.3,243.8 753.1,252.2" stroke="#a6e4cc" stroke-width="1.1" stroke-opacity="0.75" transform="translate(-0.5,-0.6)"/>
<polyline points="753.1,255 761.5,253.6 769.9,250.8 775.4,248" stroke="#2d765f" stroke-width="5.800000000000001"/>
<polyline points="753.1,255 761.5,253.6 769.9,250.8 775.4,248" stroke="#58b596" stroke-width="3.8000000000000003"/>
<polyline points="753.1,255 761.5,253.6 769.9,250.8 775.4,248" stroke="#a6e4cc" stroke-width="1.1" stroke-opacity="0.75" transform="translate(-0.5,-0.6)"/>
<polyline points="761.5,253.6 762.9,260.6 764.3,264.7" stroke="#2d765f" stroke-width="5.800000000000001"/>
<polyline points="761.5,253.6 762.9,260.6 764.3,264.7" stroke="#58b596" stroke-width="3.8000000000000003"/>
<polyline points="761.5,253.6 762.9,260.6 764.3,264.7" stroke="#a6e4cc" stroke-width="1.1" stroke-opacity="0.75" transform="translate(-0.5,-0.6)"/>
<polyline points="783.8,239.6 793.6,235.4 804.7,231.3" stroke="#2d765f" stroke-width="5.800000000000001"/>
<polyline points="783.8,239.6 793.6,235.4 804.7,231.3" stroke="#58b596" stroke-width="3.8000000000000003"/>
<polyline points="783.8,239.6 793.6,235.4 804.7,231.3" stroke="#a6e4cc" stroke-width="1.1" stroke-opacity="0.75" transform="translate(-0.5,-0.6)"/>
<polyline points="785.2,242.4 797.8,238.2" stroke="#2d765f" stroke-width="5.800000000000001"/>
<polyline points="785.2,242.4 797.8,238.2" stroke="#58b596" stroke-width="3.8000000000000003"/>
<polyline points="785.2,242.4 797.8,238.2" stroke="#a6e4cc" stroke-width="1.1" stroke-opacity="0.75" transform="translate(-0.5,-0.6)"/>
<polyline points="788,260.6 796.4,256.4 804.7,252.2" stroke="#2d765f" stroke-width="5.800000000000001"/>
<polyline points="788,260.6 796.4,256.4 804.7,252.2" stroke="#58b596" stroke-width="3.8000000000000003"/>
<polyline points="788,260.6 796.4,256.4 804.7,252.2" stroke="#a6e4cc" stroke-width="1.1" stroke-opacity="0.75" transform="translate(-0.5,-0.6)"/>
<polyline points="779.6,209 781,215.9 782.4,222.9 781,228.5" stroke="#2d765f" stroke-width="5.800000000000001"/>
<polyline points="779.6,209 781,215.9 782.4,222.9 781,228.5" stroke="#58b596" stroke-width="3.8000000000000003"/>
<polyline points="779.6,209 781,215.9 782.4,222.9 781,228.5" stroke="#a6e4cc" stroke-width="1.1" stroke-opacity="0.75" transform="translate(-0.5,-0.6)"/>
<polyline points="782.4,214.5 790.8,214.5" stroke="#2d765f" stroke-width="5.800000000000001"/>
<polyline points="782.4,214.5 790.8,214.5" stroke="#58b596" stroke-width="3.8000000000000003"/>
<polyline points="782.4,214.5 790.8,214.5" stroke="#a6e4cc" stroke-width="1.1" stroke-opacity="0.75" transform="translate(-0.5,-0.6)"/>
</g>
</svg></body></html>
